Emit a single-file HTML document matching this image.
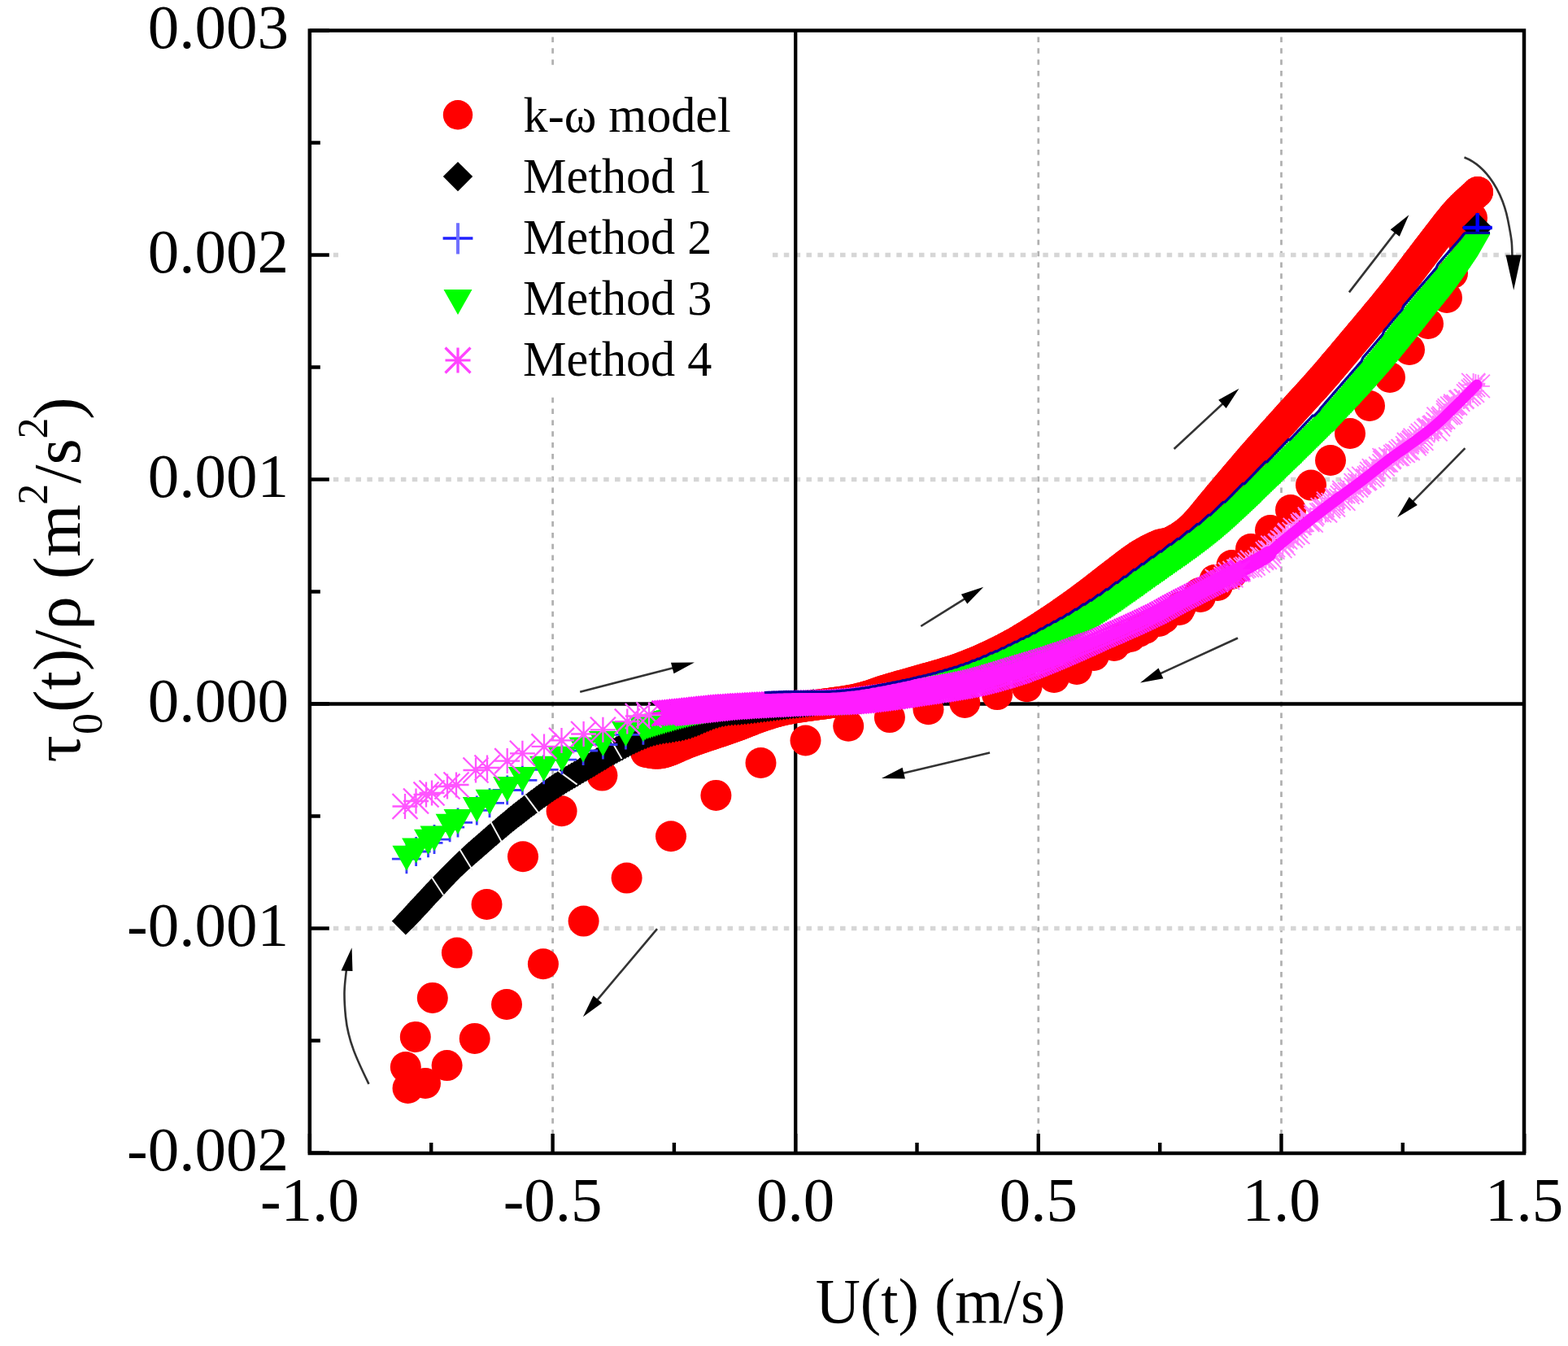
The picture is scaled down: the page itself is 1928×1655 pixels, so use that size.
<!DOCTYPE html>
<html><head><meta charset="utf-8"><title>Wall shear stress vs velocity</title>
<style>html,body{margin:0;padding:0;background:#fff;overflow:hidden;width:1928px;height:1655px;}svg{display:block;}</style>
</head><body>
<svg width="1928" height="1655" viewBox="0 0 1928 1655">
<rect x="0" y="0" width="1928" height="1655" fill="#fff"/>
<path d="M679.6 45.5V1415M1276.8 45.5V1415M1575.5 45.5V1415" stroke="#b0b0b0" stroke-width="2.7" stroke-dasharray="6.5 7.35" fill="none"/>
<path d="M409.8 313.5H1871M409.8 589.5H1871M409.8 1141.5H1871" stroke="#d6d6d6" stroke-width="5.5" stroke-dasharray="6.5 7.35" fill="none"/>
<rect x="416" y="80" width="527" height="404" fill="#fff"/>
<path d="M978.2 37.5V1418M380.8 865.5H1874" stroke="#000" stroke-width="4.3" fill="none"/>
<g fill="#ff0000"><circle cx="794" cy="925" r="19"/><circle cx="797" cy="925.4" r="19"/><circle cx="799.9" cy="926" r="19"/><circle cx="802.9" cy="926.4" r="19"/><circle cx="805.9" cy="926.7" r="19"/><circle cx="808.9" cy="926.7" r="19"/><circle cx="811.9" cy="926.5" r="19"/><circle cx="814.8" cy="926" r="19"/><circle cx="817.7" cy="925.2" r="19"/><circle cx="820.6" cy="924.3" r="19"/><circle cx="823.4" cy="923.2" r="19"/><circle cx="826.1" cy="922.1" r="19"/><circle cx="828.9" cy="920.9" r="19"/><circle cx="831.6" cy="919.7" r="19"/><circle cx="834.4" cy="918.5" r="19"/><circle cx="837.1" cy="917.3" r="19"/><circle cx="839.9" cy="916.1" r="19"/><circle cx="842.6" cy="914.9" r="19"/><circle cx="845.4" cy="913.8" r="19"/><circle cx="848.2" cy="912.7" r="19"/><circle cx="851" cy="911.6" r="19"/><circle cx="853.8" cy="910.6" r="19"/><circle cx="856.7" cy="909.6" r="19"/><circle cx="859.5" cy="908.7" r="19"/><circle cx="862.3" cy="907.7" r="19"/><circle cx="865.2" cy="906.7" r="19"/><circle cx="868" cy="905.8" r="19"/><circle cx="870.9" cy="904.8" r="19"/><circle cx="873.7" cy="903.9" r="19"/><circle cx="876.6" cy="902.9" r="19"/><circle cx="879.4" cy="902" r="19"/><circle cx="882.3" cy="901" r="19"/><circle cx="885.1" cy="900.1" r="19"/><circle cx="888" cy="899.1" r="19"/><circle cx="890.8" cy="898.2" r="19"/><circle cx="893.6" cy="897.2" r="19"/><circle cx="896.5" cy="896.2" r="19"/><circle cx="899.3" cy="895.2" r="19"/><circle cx="902.1" cy="894.2" r="19"/><circle cx="904.9" cy="893.2" r="19"/><circle cx="907.8" cy="892.1" r="19"/><circle cx="910.6" cy="891.1" r="19"/><circle cx="913.4" cy="890" r="19"/><circle cx="916.1" cy="888.9" r="19"/><circle cx="918.9" cy="887.8" r="19"/><circle cx="921.7" cy="886.7" r="19"/><circle cx="924.5" cy="885.6" r="19"/><circle cx="927.3" cy="884.5" r="19"/><circle cx="930.1" cy="883.5" r="19"/><circle cx="932.9" cy="882.4" r="19"/><circle cx="935.8" cy="881.4" r="19"/><circle cx="938.6" cy="880.5" r="19"/><circle cx="941.5" cy="879.5" r="19"/><circle cx="944.3" cy="878.6" r="19"/><circle cx="947.2" cy="877.7" r="19"/><circle cx="950" cy="876.8" r="19"/><circle cx="952.9" cy="875.9" r="19"/><circle cx="955.8" cy="875.1" r="19"/><circle cx="958.7" cy="874.4" r="19"/><circle cx="961.6" cy="873.7" r="19"/><circle cx="964.6" cy="873" r="19"/><circle cx="967.5" cy="872.4" r="19"/><circle cx="970.4" cy="871.9" r="19"/><circle cx="973.4" cy="871.3" r="19"/><circle cx="976.3" cy="870.8" r="19"/><circle cx="979.3" cy="870.3" r="19"/><circle cx="982.3" cy="869.8" r="19"/><circle cx="985.2" cy="869.4" r="19"/><circle cx="988.2" cy="868.9" r="19"/><circle cx="991.2" cy="868.5" r="19"/><circle cx="994.1" cy="868.1" r="19"/><circle cx="997.1" cy="867.7" r="19"/><circle cx="1000.1" cy="867.3" r="19"/><circle cx="1003.1" cy="866.9" r="19"/><circle cx="1006" cy="866.5" r="19"/><circle cx="1009" cy="866.1" r="19"/><circle cx="1012" cy="865.7" r="19"/><circle cx="1015" cy="865.3" r="19"/><circle cx="1017.9" cy="864.9" r="19"/><circle cx="1020.9" cy="864.5" r="19"/><circle cx="1023.9" cy="864.1" r="19"/><circle cx="1026.8" cy="863.7" r="19"/><circle cx="1029.8" cy="863.3" r="19"/><circle cx="1032.8" cy="862.9" r="19"/><circle cx="1035.8" cy="862.4" r="19"/><circle cx="1038.7" cy="861.9" r="19"/><circle cx="1041.7" cy="861.5" r="19"/><circle cx="1044.6" cy="861" r="19"/><circle cx="1047.6" cy="860.4" r="19"/><circle cx="1050.5" cy="859.9" r="19"/><circle cx="1053.5" cy="859.2" r="19"/><circle cx="1056.4" cy="858.6" r="19"/><circle cx="1059.3" cy="857.9" r="19"/><circle cx="1062.2" cy="857.1" r="19"/><circle cx="1065.1" cy="856.3" r="19"/><circle cx="1068" cy="855.4" r="19"/><circle cx="1070.8" cy="854.5" r="19"/><circle cx="1073.7" cy="853.5" r="19"/><circle cx="1076.5" cy="852.5" r="19"/><circle cx="1079.3" cy="851.5" r="19"/><circle cx="1082.1" cy="850.5" r="19"/><circle cx="1085" cy="849.6" r="19"/><circle cx="1087.9" cy="848.7" r="19"/><circle cx="1090.7" cy="847.8" r="19"/><circle cx="1093.6" cy="847" r="19"/><circle cx="1096.5" cy="846.1" r="19"/><circle cx="1099.4" cy="845.3" r="19"/><circle cx="1102.2" cy="844.5" r="19"/><circle cx="1105.1" cy="843.6" r="19"/><circle cx="1108" cy="842.8" r="19"/><circle cx="1110.9" cy="842" r="19"/><circle cx="1113.8" cy="841.2" r="19"/><circle cx="1116.7" cy="840.4" r="19"/><circle cx="1119.6" cy="839.5" r="19"/><circle cx="1122.4" cy="838.7" r="19"/><circle cx="1125.3" cy="837.9" r="19"/><circle cx="1128.2" cy="837.1" r="19"/><circle cx="1131.1" cy="836.3" r="19"/><circle cx="1134" cy="835.4" r="19"/><circle cx="1136.9" cy="834.6" r="19"/><circle cx="1139.8" cy="833.8" r="19"/><circle cx="1142.7" cy="833" r="19"/><circle cx="1145.5" cy="832.2" r="19"/><circle cx="1148.4" cy="831.4" r="19"/><circle cx="1151.3" cy="830.6" r="19"/><circle cx="1154.2" cy="829.7" r="19"/><circle cx="1157.1" cy="828.9" r="19"/><circle cx="1160" cy="828" r="19"/><circle cx="1162.8" cy="827.1" r="19"/><circle cx="1165.7" cy="826.3" r="19"/><circle cx="1168.5" cy="825.4" r="19"/><circle cx="1171.4" cy="824.4" r="19"/><circle cx="1174.3" cy="823.5" r="19"/><circle cx="1177.1" cy="822.5" r="19"/><circle cx="1179.9" cy="821.5" r="19"/><circle cx="1182.7" cy="820.5" r="19"/><circle cx="1185.5" cy="819.4" r="19"/><circle cx="1188.3" cy="818.3" r="19"/><circle cx="1191.1" cy="817.2" r="19"/><circle cx="1193.9" cy="816.1" r="19"/><circle cx="1196.7" cy="815" r="19"/><circle cx="1199.5" cy="813.9" r="19"/><circle cx="1202.2" cy="812.7" r="19"/><circle cx="1205" cy="811.5" r="19"/><circle cx="1207.7" cy="810.3" r="19"/><circle cx="1210.5" cy="809.1" r="19"/><circle cx="1213.2" cy="807.8" r="19"/><circle cx="1215.9" cy="806.6" r="19"/><circle cx="1218.6" cy="805.3" r="19"/><circle cx="1221.3" cy="804" r="19"/><circle cx="1224" cy="802.7" r="19"/><circle cx="1226.7" cy="801.4" r="19"/><circle cx="1229.4" cy="800" r="19"/><circle cx="1232.1" cy="798.7" r="19"/><circle cx="1234.8" cy="797.3" r="19"/><circle cx="1237.4" cy="795.9" r="19"/><circle cx="1240.1" cy="794.5" r="19"/><circle cx="1242.7" cy="793.1" r="19"/><circle cx="1245.3" cy="791.6" r="19"/><circle cx="1248" cy="790.2" r="19"/><circle cx="1250.6" cy="788.7" r="19"/><circle cx="1253.2" cy="787.2" r="19"/><circle cx="1255.7" cy="785.6" r="19"/><circle cx="1258.3" cy="784.1" r="19"/><circle cx="1260.9" cy="782.6" r="19"/><circle cx="1263.4" cy="781" r="19"/><circle cx="1266" cy="779.4" r="19"/><circle cx="1268.5" cy="777.8" r="19"/><circle cx="1271.1" cy="776.2" r="19"/><circle cx="1273.6" cy="774.6" r="19"/><circle cx="1276.2" cy="773" r="19"/><circle cx="1278.7" cy="771.4" r="19"/><circle cx="1281.2" cy="769.8" r="19"/><circle cx="1283.7" cy="768.1" r="19"/><circle cx="1286.2" cy="766.5" r="19"/><circle cx="1288.7" cy="764.8" r="19"/><circle cx="1291.2" cy="763.2" r="19"/><circle cx="1293.7" cy="761.5" r="19"/><circle cx="1296.2" cy="759.8" r="19"/><circle cx="1298.7" cy="758.2" r="19"/><circle cx="1301.2" cy="756.5" r="19"/><circle cx="1303.6" cy="754.8" r="19"/><circle cx="1306.1" cy="753.1" r="19"/><circle cx="1308.6" cy="751.3" r="19"/><circle cx="1311" cy="749.6" r="19"/><circle cx="1313.5" cy="747.9" r="19"/><circle cx="1315.9" cy="746.2" r="19"/><circle cx="1318.4" cy="744.4" r="19"/><circle cx="1320.8" cy="742.7" r="19"/><circle cx="1323.2" cy="740.9" r="19"/><circle cx="1325.7" cy="739.2" r="19"/><circle cx="1328.1" cy="737.4" r="19"/><circle cx="1330.5" cy="735.6" r="19"/><circle cx="1332.9" cy="733.8" r="19"/><circle cx="1335.3" cy="732" r="19"/><circle cx="1337.7" cy="730.2" r="19"/><circle cx="1340.1" cy="728.4" r="19"/><circle cx="1342.5" cy="726.6" r="19"/><circle cx="1344.9" cy="724.7" r="19"/><circle cx="1347.2" cy="722.9" r="19"/><circle cx="1349.6" cy="721.1" r="19"/><circle cx="1352" cy="719.2" r="19"/><circle cx="1354.3" cy="717.4" r="19"/><circle cx="1356.7" cy="715.5" r="19"/><circle cx="1359.1" cy="713.7" r="19"/><circle cx="1361.4" cy="711.8" r="19"/><circle cx="1363.8" cy="710" r="19"/><circle cx="1366.2" cy="708.2" r="19"/><circle cx="1368.6" cy="706.3" r="19"/><circle cx="1370.9" cy="704.5" r="19"/><circle cx="1373.3" cy="702.7" r="19"/><circle cx="1375.7" cy="700.9" r="19"/><circle cx="1378.1" cy="699" r="19"/><circle cx="1380.5" cy="697.2" r="19"/><circle cx="1382.8" cy="695.4" r="19"/><circle cx="1385.2" cy="693.6" r="19"/><circle cx="1387.6" cy="691.8" r="19"/><circle cx="1390" cy="690" r="19"/><circle cx="1392.4" cy="688.2" r="19"/><circle cx="1394.9" cy="686.5" r="19"/><circle cx="1397.4" cy="684.8" r="19"/><circle cx="1399.9" cy="683.1" r="19"/><circle cx="1402.4" cy="681.5" r="19"/><circle cx="1405" cy="680" r="19"/><circle cx="1407.6" cy="678.5" r="19"/><circle cx="1410.2" cy="677" r="19"/><circle cx="1412.9" cy="675.6" r="19"/><circle cx="1415.6" cy="674.3" r="19"/><circle cx="1418.3" cy="673" r="19"/><circle cx="1421" cy="671.8" r="19"/><circle cx="1423.7" cy="670.5" r="19"/><circle cx="1426.5" cy="669.4" r="19"/><circle cx="1429.4" cy="668.7" r="19"/><circle cx="1432.4" cy="668.3" r="19"/><circle cx="1435.3" cy="667.8" r="19"/><circle cx="1438.2" cy="666.9" r="19"/><circle cx="1440.9" cy="665.5" r="19"/><circle cx="1443.5" cy="664.1" r="19"/><circle cx="1446.1" cy="662.7" r="19"/><circle cx="1448.7" cy="661.2" r="19"/><circle cx="1451.3" cy="659.6" r="19"/><circle cx="1453.8" cy="657.9" r="19"/><circle cx="1456.2" cy="656.2" r="19"/><circle cx="1458.6" cy="654.4" r="19"/><circle cx="1461" cy="652.5" r="19"/><circle cx="1463.2" cy="650.5" r="19"/><circle cx="1465.4" cy="648.5" r="19"/><circle cx="1467.6" cy="646.4" r="19"/><circle cx="1469.7" cy="644.3" r="19"/><circle cx="1471.7" cy="642" r="19"/><circle cx="1473.7" cy="639.8" r="19"/><circle cx="1475.7" cy="637.5" r="19"/><circle cx="1477.6" cy="635.3" r="19"/><circle cx="1479.5" cy="633" r="19"/><circle cx="1481.4" cy="630.6" r="19"/><circle cx="1483.3" cy="628.3" r="19"/><circle cx="1485.2" cy="626" r="19"/><circle cx="1487.1" cy="623.7" r="19"/><circle cx="1489" cy="621.3" r="19"/><circle cx="1490.9" cy="619" r="19"/><circle cx="1492.8" cy="616.7" r="19"/><circle cx="1494.7" cy="614.4" r="19"/><circle cx="1496.6" cy="612.1" r="19"/><circle cx="1498.5" cy="609.8" r="19"/><circle cx="1500.5" cy="607.5" r="19"/><circle cx="1502.4" cy="605.2" r="19"/><circle cx="1504.3" cy="602.9" r="19"/><circle cx="1506.3" cy="600.6" r="19"/><circle cx="1508.2" cy="598.3" r="19"/><circle cx="1510.2" cy="596" r="19"/><circle cx="1512.1" cy="593.7" r="19"/><circle cx="1514" cy="591.4" r="19"/><circle cx="1516" cy="589.1" r="19"/><circle cx="1517.9" cy="586.8" r="19"/><circle cx="1519.8" cy="584.6" r="19"/><circle cx="1521.8" cy="582.3" r="19"/><circle cx="1523.7" cy="580" r="19"/><circle cx="1525.7" cy="577.7" r="19"/><circle cx="1527.6" cy="575.4" r="19"/><circle cx="1529.6" cy="573.1" r="19"/><circle cx="1531.5" cy="570.8" r="19"/><circle cx="1533.5" cy="568.6" r="19"/><circle cx="1535.4" cy="566.3" r="19"/><circle cx="1537.4" cy="564" r="19"/><circle cx="1539.3" cy="561.8" r="19"/><circle cx="1541.3" cy="559.5" r="19"/><circle cx="1543.3" cy="557.2" r="19"/><circle cx="1545.3" cy="555" r="19"/><circle cx="1547.2" cy="552.7" r="19"/><circle cx="1549.2" cy="550.5" r="19"/><circle cx="1551.2" cy="548.2" r="19"/><circle cx="1553.2" cy="546" r="19"/><circle cx="1555.2" cy="543.7" r="19"/><circle cx="1557.2" cy="541.5" r="19"/><circle cx="1559.2" cy="539.2" r="19"/><circle cx="1561.2" cy="537" r="19"/><circle cx="1563.2" cy="534.8" r="19"/><circle cx="1565.2" cy="532.5" r="19"/><circle cx="1567.2" cy="530.3" r="19"/><circle cx="1569.2" cy="528.1" r="19"/><circle cx="1571.2" cy="525.8" r="19"/><circle cx="1573.2" cy="523.6" r="19"/><circle cx="1575.2" cy="521.4" r="19"/><circle cx="1577.2" cy="519.1" r="19"/><circle cx="1579.2" cy="516.9" r="19"/><circle cx="1581.2" cy="514.7" r="19"/><circle cx="1583.2" cy="512.4" r="19"/><circle cx="1585.2" cy="510.2" r="19"/><circle cx="1587.2" cy="508" r="19"/><circle cx="1589.3" cy="505.8" r="19"/><circle cx="1591.3" cy="503.6" r="19"/><circle cx="1593.3" cy="501.4" r="19"/><circle cx="1595.3" cy="499.1" r="19"/><circle cx="1597.4" cy="496.9" r="19"/><circle cx="1599.4" cy="494.7" r="19"/><circle cx="1601.4" cy="492.5" r="19"/><circle cx="1603.4" cy="490.3" r="19"/><circle cx="1605.5" cy="488.1" r="19"/><circle cx="1607.5" cy="485.9" r="19"/><circle cx="1609.5" cy="483.6" r="19"/><circle cx="1611.5" cy="481.4" r="19"/><circle cx="1613.5" cy="479.2" r="19"/><circle cx="1615.6" cy="477" r="19"/><circle cx="1617.6" cy="474.7" r="19"/><circle cx="1619.6" cy="472.5" r="19"/><circle cx="1621.5" cy="470.3" r="19"/><circle cx="1623.5" cy="468" r="19"/><circle cx="1625.5" cy="465.8" r="19"/><circle cx="1627.5" cy="463.5" r="19"/><circle cx="1629.5" cy="461.2" r="19"/><circle cx="1631.4" cy="459" r="19"/><circle cx="1633.4" cy="456.7" r="19"/><circle cx="1635.3" cy="454.4" r="19"/><circle cx="1637.3" cy="452.1" r="19"/><circle cx="1639.2" cy="449.8" r="19"/><circle cx="1641.1" cy="447.5" r="19"/><circle cx="1643.1" cy="445.2" r="19"/><circle cx="1645" cy="442.9" r="19"/><circle cx="1646.9" cy="440.7" r="19"/><circle cx="1648.9" cy="438.4" r="19"/><circle cx="1650.8" cy="436.1" r="19"/><circle cx="1652.7" cy="433.8" r="19"/><circle cx="1654.7" cy="431.5" r="19"/><circle cx="1656.6" cy="429.2" r="19"/><circle cx="1658.5" cy="426.9" r="19"/><circle cx="1660.5" cy="424.6" r="19"/><circle cx="1662.4" cy="422.3" r="19"/><circle cx="1664.3" cy="420" r="19"/><circle cx="1666.3" cy="417.7" r="19"/><circle cx="1668.2" cy="415.4" r="19"/><circle cx="1670.1" cy="413.1" r="19"/><circle cx="1672.1" cy="410.8" r="19"/><circle cx="1674" cy="408.5" r="19"/><circle cx="1675.9" cy="406.2" r="19"/><circle cx="1677.9" cy="403.9" r="19"/><circle cx="1679.8" cy="401.6" r="19"/><circle cx="1681.7" cy="399.3" r="19"/><circle cx="1683.6" cy="397" r="19"/><circle cx="1685.6" cy="394.7" r="19"/><circle cx="1687.5" cy="392.4" r="19"/><circle cx="1689.4" cy="390.1" r="19"/><circle cx="1691.3" cy="387.8" r="19"/><circle cx="1693.2" cy="385.5" r="19"/><circle cx="1695.1" cy="383.2" r="19"/><circle cx="1697" cy="380.9" r="19"/><circle cx="1699" cy="378.6" r="19"/><circle cx="1700.9" cy="376.3" r="19"/><circle cx="1702.8" cy="373.9" r="19"/><circle cx="1704.6" cy="371.6" r="19"/><circle cx="1706.5" cy="369.3" r="19"/><circle cx="1708.4" cy="366.9" r="19"/><circle cx="1710.3" cy="364.6" r="19"/><circle cx="1712.2" cy="362.3" r="19"/><circle cx="1714" cy="359.9" r="19"/><circle cx="1715.9" cy="357.6" r="19"/><circle cx="1717.8" cy="355.2" r="19"/><circle cx="1719.6" cy="352.8" r="19"/><circle cx="1721.5" cy="350.5" r="19"/><circle cx="1723.3" cy="348.1" r="19"/><circle cx="1725.1" cy="345.7" r="19"/><circle cx="1727" cy="343.4" r="19"/><circle cx="1728.8" cy="341" r="19"/><circle cx="1730.6" cy="338.6" r="19"/><circle cx="1732.4" cy="336.2" r="19"/><circle cx="1734.3" cy="333.8" r="19"/><circle cx="1736.1" cy="331.4" r="19"/><circle cx="1737.9" cy="329" r="19"/><circle cx="1739.7" cy="326.7" r="19"/><circle cx="1741.5" cy="324.3" r="19"/><circle cx="1743.3" cy="321.9" r="19"/><circle cx="1745.1" cy="319.5" r="19"/><circle cx="1746.9" cy="317.1" r="19"/><circle cx="1748.8" cy="314.7" r="19"/><circle cx="1750.6" cy="312.3" r="19"/><circle cx="1752.4" cy="309.9" r="19"/><circle cx="1754.2" cy="307.5" r="19"/><circle cx="1756" cy="305.2" r="19"/><circle cx="1757.9" cy="302.8" r="19"/><circle cx="1759.7" cy="300.4" r="19"/><circle cx="1761.5" cy="298" r="19"/><circle cx="1763.4" cy="295.7" r="19"/><circle cx="1765.2" cy="293.3" r="19"/><circle cx="1767" cy="290.9" r="19"/><circle cx="1768.8" cy="288.5" r="19"/><circle cx="1770.7" cy="286.1" r="19"/><circle cx="1772.5" cy="283.7" r="19"/><circle cx="1774.3" cy="281.4" r="19"/><circle cx="1776.1" cy="279" r="19"/><circle cx="1778" cy="276.6" r="19"/><circle cx="1779.8" cy="274.2" r="19"/><circle cx="1781.7" cy="271.9" r="19"/><circle cx="1783.6" cy="269.6" r="19"/><circle cx="1785.5" cy="267.3" r="19"/><circle cx="1787.4" cy="265" r="19"/><circle cx="1789.4" cy="262.7" r="19"/><circle cx="1791.4" cy="260.5" r="19"/><circle cx="1793.4" cy="258.3" r="19"/><circle cx="1795.5" cy="256.1" r="19"/><circle cx="1797.6" cy="254" r="19"/><circle cx="1799.8" cy="251.9" r="19"/><circle cx="1802" cy="249.8" r="19"/><circle cx="1804.1" cy="247.8" r="19"/><circle cx="1806.3" cy="245.7" r="19"/><circle cx="1808.6" cy="243.7" r="19"/><circle cx="1810.8" cy="241.7" r="19"/><circle cx="1813" cy="239.7" r="19"/><circle cx="1815.2" cy="237.7" r="19"/><circle cx="1817" cy="236" r="19"/><circle cx="1380" cy="786" r="19"/><circle cx="1400" cy="777" r="19"/><circle cx="1425" cy="764" r="19"/><circle cx="1450" cy="750" r="19"/><circle cx="1476" cy="734" r="19"/><circle cx="1497" cy="720" r="19"/><circle cx="1514" cy="706" r="19"/><circle cx="1817" cy="236" r="19"/><circle cx="1810" cy="268" r="19"/><circle cx="1800" cy="300" r="19"/><circle cx="1786" cy="336" r="19"/><circle cx="1779" cy="366" r="19"/><circle cx="1756" cy="398" r="19"/><circle cx="1733" cy="430" r="19"/><circle cx="1709" cy="464" r="19"/><circle cx="1684" cy="499" r="19"/><circle cx="1660" cy="533" r="19"/><circle cx="1636" cy="566" r="19"/><circle cx="1612" cy="596.6" r="19"/><circle cx="1587" cy="627" r="19"/><circle cx="1562" cy="652" r="19"/><circle cx="1538" cy="675" r="19"/><circle cx="1514.5" cy="695" r="19"/><circle cx="1493.5" cy="713" r="19"/><circle cx="1475" cy="729" r="19"/><circle cx="1452" cy="746" r="19"/><circle cx="1431" cy="760" r="19"/><circle cx="1408" cy="773" r="19"/><circle cx="1390" cy="783" r="19"/><circle cx="1370" cy="794" r="19"/><circle cx="1345" cy="806" r="19"/><circle cx="1324" cy="823" r="19"/><circle cx="1296.1" cy="833" r="19"/><circle cx="1262.5" cy="844.3" r="19"/><circle cx="1226.1" cy="854.1" r="19"/><circle cx="1186.3" cy="863.9" r="19"/><circle cx="1141.5" cy="872.3" r="19"/><circle cx="1093.9" cy="882.1" r="19"/><circle cx="1043.2" cy="892.7" r="19"/><circle cx="990.5" cy="910.5" r="19"/><circle cx="935.5" cy="938" r="19"/><circle cx="880.4" cy="977.9" r="19"/><circle cx="825" cy="1028.3" r="19"/><circle cx="770.6" cy="1079.6" r="19"/><circle cx="717.6" cy="1132.6" r="19"/><circle cx="667.9" cy="1185.2" r="19"/><circle cx="623" cy="1235" r="19"/><circle cx="583.7" cy="1276.9" r="19"/><circle cx="549.6" cy="1310.1" r="19"/><circle cx="523" cy="1332" r="19"/><circle cx="501.5" cy="1338" r="19"/><circle cx="498.8" cy="1312" r="19"/><circle cx="510.8" cy="1274.9" r="19"/><circle cx="531.8" cy="1226.9" r="19"/><circle cx="561.9" cy="1171.6" r="19"/><circle cx="598.5" cy="1112" r="19"/><circle cx="643" cy="1053.2" r="19"/><circle cx="690.6" cy="997.2" r="19"/><circle cx="740.4" cy="953.6" r="19"/></g>
<path fill="#000" d="M498.8 1115.6l17 17l-17 17l-17 -17zM501.5 1112.7l17 17l-17 17l-17 -17zM504.2 1109.7l17 17l-17 17l-17 -17zM507 1106.8l17 17l-17 17l-17 -17zM509.7 1103.9l17 17l-17 17l-17 -17zM512.4 1100.9l17 17l-17 17l-17 -17zM515.1 1098l17 17l-17 17l-17 -17zM517.8 1095l17 17l-17 17l-17 -17zM520.5 1092.1l17 17l-17 17l-17 -17zM523.2 1089.2l17 17l-17 17l-17 -17zM526 1086.2l17 17l-17 17l-17 -17zM528.7 1083.3l17 17l-17 17l-17 -17zM531.4 1080.4l17 17l-17 17l-17 -17zM534.1 1077.5l17 17l-17 17l-17 -17zM536.9 1074.5l17 17l-17 17l-17 -17zM539.6 1071.6l17 17l-17 17l-17 -17zM542.4 1068.7l17 17l-17 17l-17 -17zM545.1 1065.8l17 17l-17 17l-17 -17zM547.9 1062.9l17 17l-17 17l-17 -17zM550.7 1060l17 17l-17 17l-17 -17zM553.5 1057.2l17 17l-17 17l-17 -17zM556.3 1054.3l17 17l-17 17l-17 -17zM559.1 1051.5l17 17l-17 17l-17 -17zM562 1048.7l17 17l-17 17l-17 -17zM564.8 1045.9l17 17l-17 17l-17 -17zM567.8 1043.2l17 17l-17 17l-17 -17zM570.7 1040.5l17 17l-17 17l-17 -17zM573.6 1037.8l17 17l-17 17l-17 -17zM576.6 1035.1l17 17l-17 17l-17 -17zM579.6 1032.5l17 17l-17 17l-17 -17zM582.6 1029.8l17 17l-17 17l-17 -17zM585.6 1027.2l17 17l-17 17l-17 -17zM588.7 1024.6l17 17l-17 17l-17 -17zM591.7 1021.9l17 17l-17 17l-17 -17zM594.7 1019.3l17 17l-17 17l-17 -17zM597.7 1016.7l17 17l-17 17l-17 -17zM600.7 1014l17 17l-17 17l-17 -17zM603.7 1011.4l17 17l-17 17l-17 -17zM606.7 1008.8l17 17l-17 17l-17 -17zM609.8 1006.2l17 17l-17 17l-17 -17zM612.8 1003.6l17 17l-17 17l-17 -17zM615.9 1001l17 17l-17 17l-17 -17zM618.9 998.4l17 17l-17 17l-17 -17zM622 995.9l17 17l-17 17l-17 -17zM625.1 993.3l17 17l-17 17l-17 -17zM628.2 990.8l17 17l-17 17l-17 -17zM631.3 988.3l17 17l-17 17l-17 -17zM634.4 985.8l17 17l-17 17l-17 -17zM637.6 983.3l17 17l-17 17l-17 -17zM640.7 980.9l17 17l-17 17l-17 -17zM643.9 978.4l17 17l-17 17l-17 -17zM647 975.9l17 17l-17 17l-17 -17zM650.2 973.5l17 17l-17 17l-17 -17zM653.4 971.1l17 17l-17 17l-17 -17zM656.6 968.7l17 17l-17 17l-17 -17zM659.8 966.3l17 17l-17 17l-17 -17zM663 963.9l17 17l-17 17l-17 -17zM666.2 961.5l17 17l-17 17l-17 -17zM669.5 959.2l17 17l-17 17l-17 -17zM672.7 956.9l17 17l-17 17l-17 -17zM676 954.6l17 17l-17 17l-17 -17zM679.3 952.3l17 17l-17 17l-17 -17zM682.6 950.1l17 17l-17 17l-17 -17zM686 947.9l17 17l-17 17l-17 -17zM689.4 945.8l17 17l-17 17l-17 -17zM692.8 943.7l17 17l-17 17l-17 -17zM696.2 941.6l17 17l-17 17l-17 -17zM699.6 939.5l17 17l-17 17l-17 -17zM703 937.4l17 17l-17 17l-17 -17zM706.5 935.4l17 17l-17 17l-17 -17zM709.9 933.4l17 17l-17 17l-17 -17zM713.4 931.3l17 17l-17 17l-17 -17zM716.8 929.3l17 17l-17 17l-17 -17zM720.3 927.3l17 17l-17 17l-17 -17zM723.7 925.3l17 17l-17 17l-17 -17zM727.1 923.2l17 17l-17 17l-17 -17zM730.6 921.2l17 17l-17 17l-17 -17zM734 919.1l17 17l-17 17l-17 -17zM737.4 917l17 17l-17 17l-17 -17zM740.8 914.9l17 17l-17 17l-17 -17zM744.3 912.9l17 17l-17 17l-17 -17zM747.7 910.8l17 17l-17 17l-17 -17zM751.2 908.8l17 17l-17 17l-17 -17zM754.7 906.9l17 17l-17 17l-17 -17zM758.2 905l17 17l-17 17l-17 -17zM761.7 903.1l17 17l-17 17l-17 -17zM765.2 901.2l17 17l-17 17l-17 -17zM768.8 899.3l17 17l-17 17l-17 -17zM772.3 897.5l17 17l-17 17l-17 -17zM775.8 895.6l17 17l-17 17l-17 -17zM779.4 893.8l17 17l-17 17l-17 -17zM783 892l17 17l-17 17l-17 -17zM786.6 890.3l17 17l-17 17l-17 -17zM790.3 888.7l17 17l-17 17l-17 -17zM794 887.2l17 17l-17 17l-17 -17zM797.7 885.8l17 17l-17 17l-17 -17zM801.5 884.6l17 17l-17 17l-17 -17zM805.4 883.5l17 17l-17 17l-17 -17zM809.3 882.6l17 17l-17 17l-17 -17zM813.2 881.8l17 17l-17 17l-17 -17zM817.1 881.1l17 17l-17 17l-17 -17zM821.1 880.5l17 17l-17 17l-17 -17zM825 879.9l17 17l-17 17l-17 -17zM829 879.3l17 17l-17 17l-17 -17zM832.9 878.6l17 17l-17 17l-17 -17zM836.9 877.9l17 17l-17 17l-17 -17zM840.8 877l17 17l-17 17l-17 -17zM844.7 876.1l17 17l-17 17l-17 -17zM848.5 874.9l17 17l-17 17l-17 -17zM852.3 873.6l17 17l-17 17l-17 -17zM856 872.2l17 17l-17 17l-17 -17zM859.7 870.7l17 17l-17 17l-17 -17zM863.4 869.1l17 17l-17 17l-17 -17zM867.1 867.6l17 17l-17 17l-17 -17zM870.8 866l17 17l-17 17l-17 -17zM874.5 864.5l17 17l-17 17l-17 -17zM878.2 863.1l17 17l-17 17l-17 -17zM882 861.9l17 17l-17 17l-17 -17zM885.9 860.8l17 17l-17 17l-17 -17zM889.8 859.9l17 17l-17 17l-17 -17zM893.7 859.3l17 17l-17 17l-17 -17zM897.7 858.8l17 17l-17 17l-17 -17zM901.7 858.4l17 17l-17 17l-17 -17zM905.7 858.2l17 17l-17 17l-17 -17zM909.7 857.9l17 17l-17 17l-17 -17zM913.7 857.6l17 17l-17 17l-17 -17zM917.6 857.2l17 17l-17 17l-17 -17zM921.6 856.8l17 17l-17 17l-17 -17zM925.6 856.3l17 17l-17 17l-17 -17zM929.6 855.8l17 17l-17 17l-17 -17zM933.5 855.3l17 17l-17 17l-17 -17zM937.5 854.8l17 17l-17 17l-17 -17zM941.5 854.3l17 17l-17 17l-17 -17zM945.4 853.8l17 17l-17 17l-17 -17zM949.4 853.3l17 17l-17 17l-17 -17zM953.4 852.8l17 17l-17 17l-17 -17zM957.3 852.3l17 17l-17 17l-17 -17zM961.3 851.8l17 17l-17 17l-17 -17zM965.3 851.3l17 17l-17 17l-17 -17zM969.2 850.8l17 17l-17 17l-17 -17zM973.2 850.3l17 17l-17 17l-17 -17zM977.2 849.9l17 17l-17 17l-17 -17zM981.1 849.4l17 17l-17 17l-17 -17zM985.1 848.9l17 17l-17 17l-17 -17zM989.1 848.4l17 17l-17 17l-17 -17zM993.1 847.9l17 17l-17 17l-17 -17zM997 847.4l17 17l-17 17l-17 -17zM1000 847l17 17l-17 17l-17 -17z"/>
<path fill="none" stroke="#f4f4f4" stroke-width="2" d="M565.4 1044.5L581 1070M602.3 1008.6L616.7 1035M645.8 977.6L663.8 1001.6M685.4 946.9L709.6 964.6M749.5 907L764.5 933M528.8 1075.5L545.2 1100.5"/>
<path fill="none" stroke="#3a3aff" stroke-width="2.8" d="M481.9 1056.2h36M499.9 1038.2v36M493.6 1047h36M511.6 1029v36M508.5 1036.3h36M526.5 1018.3v36M516 1032.1h36M534 1014.1v36M535.1 1017.2h36M553.1 999.2v36M545 1011.4h36M563 993.4v36M568.3 996.4h36M586.3 978.4v36M584 987.3h36M602 969.3v36M605.7 971.5h36M623.7 953.5v36M624.4 959.4h36M642.4 941.4v36M650.6 946.3h36M668.6 928.3v36M673 934.2h36M691 916.2v36M699.1 923h36M717.1 905v36M723.4 915.5h36M741.4 897.5v36M751.4 903.4h36M769.4 885.4v36M772.9 897.8h36M790.9 879.8v36"/>
<path fill="#000" d="M1816.5 261.5l18.5 18.5l-18.5 18.5l-18.5 -18.5z"/>
<path fill="none" stroke="#0000ff" stroke-width="4.5" d="M1798.7 280h36M1816.7 262v36"/>
<path fill="#00ff00" d="M482.4 1039.7h35l-17.5 31zM494.1 1030.5h35l-17.5 31zM509 1019.8h35l-17.5 31zM516.5 1015.6h35l-17.5 31zM535.6 1000.7h35l-17.5 31zM545.5 994.9h35l-17.5 31zM568.8 979.9h35l-17.5 31zM584.5 970.8h35l-17.5 31zM606.2 955h35l-17.5 31zM624.9 942.9h35l-17.5 31zM651.1 929.8h35l-17.5 31zM673.5 917.7h35l-17.5 31zM699.6 906.5h35l-17.5 31zM723.9 899h35l-17.5 31zM751.9 886.9h35l-17.5 31zM773.4 881.3h35l-17.5 31zM777.8 881.9h32l-16 28zM780.6 881h32l-16 28zM783.5 880.2h32l-16 28zM786.4 879.3h32l-16 28zM789.2 878.4h32l-16 28zM792.1 877.5h32l-16 28zM795 876.7h32l-16 28zM797.9 875.8h32l-16 28zM800.7 874.9h32l-16 28zM803.6 874.1h32l-16 28zM806.5 873.3h32l-16 28zM809.4 872.5h32l-16 28zM812.3 871.6h32l-16 28zM815.1 870.8h32l-16 28zM818 870h32l-16 28zM820.9 869.2h32l-16 28zM823.8 868.4h32l-16 28zM826.7 867.7h32l-16 28zM829.7 867h32l-16 28zM832.6 866.3h32l-16 28zM835.5 865.6h32l-16 28zM838.4 865h32l-16 28zM841.3 864.3h32l-16 28zM844.3 863.6h32l-16 28zM847.2 862.9h32l-16 28zM850.1 862.2h32l-16 28zM853 861.5h32l-16 28zM855.9 860.8h32l-16 28zM858.9 860.2h32l-16 28zM861.8 859.6h32l-16 28zM864.7 859h32l-16 28zM867.7 858.4h32l-16 28zM870.7 857.9h32l-16 28zM873.6 857.4h32l-16 28zM876.6 857h32l-16 28zM879.6 856.6h32l-16 28zM882.5 856.2h32l-16 28zM885.5 855.9h32l-16 28zM888.5 855.6h32l-16 28zM891.5 855.3h32l-16 28zM894.5 855h32l-16 28zM897.5 854.8h32l-16 28zM900.5 854.6h32l-16 28zM903.4 854.4h32l-16 28zM906.4 854.2h32l-16 28zM909.4 854h32l-16 28zM912.4 853.8h32l-16 28zM915.4 853.7h32l-16 28zM918.4 853.5h32l-16 28zM921.4 853.4h32l-16 28zM924.4 853.3h32l-16 28zM927.4 853.2h32l-16 28zM930.4 853h32l-16 28zM933.4 852.9h32l-16 28zM936.4 852.8h32l-16 28zM939.4 852.7h32l-16 28zM942.4 852.6h32l-16 28zM945.4 852.5h32l-16 28zM948.4 852.4h32l-16 28zM951.4 852.3h32l-16 28zM954.4 852.2h32l-16 28zM957.4 852.1h32l-16 28zM960.4 852h32l-16 28zM963.4 851.9h32l-16 28zM966.4 851.8h32l-16 28zM969.4 851.8h32l-16 28zM972.4 851.7h32l-16 28zM975.4 851.7h32l-16 28zM978.4 851.7h32l-16 28zM981.4 851.7h32l-16 28zM984.4 851.7h32l-16 28zM987.4 851.7h32l-16 28zM990.4 851.8h32l-16 28zM993.4 851.8h32l-16 28zM996.4 851.8h32l-16 28zM999.4 851.8h32l-16 28zM1002.4 851.8h32l-16 28zM1005.4 851.8h32l-16 28zM1008.4 851.7h32l-16 28zM1011.4 851.7h32l-16 28zM1014.4 851.6h32l-16 28zM1017.4 851.5h32l-16 28zM1020.4 851.4h32l-16 28zM1023.4 851.2h32l-16 28zM1026.4 851.1h32l-16 28zM1029.4 850.8h32l-16 28zM1032.4 850.6h32l-16 28zM1035.3 850.4h32l-16 28zM1038.3 850h32l-16 28zM1041.3 849.7h32l-16 28zM1044.3 849.4h32l-16 28zM1047.3 849h32l-16 28zM1050.2 848.6h32l-16 28zM1053.2 848.3h32l-16 28zM1056.2 847.8h32l-16 28zM1059.2 847.4h32l-16 28zM1062.1 846.9h32l-16 28zM1065.1 846.5h32l-16 28zM1068 846h32l-16 28zM1071 845.5h32l-16 28zM1074 845h32l-16 28zM1076.9 844.4h32l-16 28zM1079.9 843.9h32l-16 28zM1082.8 843.3h32l-16 28zM1085.8 842.8h32l-16 28zM1088.7 842.2h32l-16 28zM1091.6 841.6h32l-16 28zM1094.6 841h32l-16 28zM1097.5 840.4h32l-16 28zM1100.5 839.8h32l-16 28zM1103.4 839.2h32l-16 28zM1106.3 838.6h32l-16 28zM1109.3 837.9h32l-16 28zM1112.2 837.3h32l-16 28zM1115.1 836.7h32l-16 28zM1118.1 836h32l-16 28zM1121 835.4h32l-16 28zM1123.9 834.7h32l-16 28zM1126.8 834h32l-16 28zM1129.8 833.4h32l-16 28zM1132.7 832.7h32l-16 28zM1135.6 832h32l-16 28zM1138.5 831.3h32l-16 28zM1141.4 830.5h32l-16 28zM1144.3 829.8h32l-16 28zM1147.2 829.1h32l-16 28zM1150.1 828.3h32l-16 28zM1153 827.5h32l-16 28zM1155.9 826.8h32l-16 28zM1158.8 825.9h32l-16 28zM1161.7 825.1h32l-16 28zM1164.6 824.3h32l-16 28zM1167.5 823.4h32l-16 28zM1170.3 822.5h32l-16 28zM1173.2 821.6h32l-16 28zM1176 820.7h32l-16 28zM1178.9 819.7h32l-16 28zM1181.7 818.8h32l-16 28zM1184.6 817.8h32l-16 28zM1187.4 816.8h32l-16 28zM1190.2 815.7h32l-16 28zM1193 814.7h32l-16 28zM1195.8 813.6h32l-16 28zM1198.6 812.5h32l-16 28zM1201.4 811.4h32l-16 28zM1204.2 810.3h32l-16 28zM1206.9 809.1h32l-16 28zM1209.7 808h32l-16 28zM1212.5 806.8h32l-16 28zM1215.2 805.6h32l-16 28zM1218 804.4h32l-16 28zM1220.7 803.2h32l-16 28zM1223.5 802h32l-16 28zM1226.2 800.7h32l-16 28zM1228.9 799.5h32l-16 28zM1231.6 798.2h32l-16 28zM1234.4 797h32l-16 28zM1237.1 795.7h32l-16 28zM1239.8 794.4h32l-16 28zM1242.5 793.1h32l-16 28zM1245.2 791.8h32l-16 28zM1247.9 790.5h32l-16 28zM1250.6 789.2h32l-16 28zM1253.3 787.8h32l-16 28zM1256 786.5h32l-16 28zM1258.6 785.2h32l-16 28zM1261.3 783.8h32l-16 28zM1264 782.5h32l-16 28zM1266.7 781.1h32l-16 28zM1269.3 779.7h32l-16 28zM1272 778.4h32l-16 28zM1274.7 777h32l-16 28zM1277.3 775.6h32l-16 28zM1280 774.2h32l-16 28zM1282.6 772.8h32l-16 28zM1285.3 771.3h32l-16 28zM1287.9 769.9h32l-16 28zM1290.5 768.5h32l-16 28zM1293.2 767h32l-16 28zM1295.8 765.6h32l-16 28zM1298.4 764.1h32l-16 28zM1301 762.6h32l-16 28zM1303.6 761.2h32l-16 28zM1306.2 759.7h32l-16 28zM1308.8 758.2h32l-16 28zM1311.4 756.6h32l-16 28zM1314 755.1h32l-16 28zM1316.6 753.6h32l-16 28zM1319.2 752.1h32l-16 28zM1321.7 750.5h32l-16 28zM1324.3 749h32l-16 28zM1326.9 747.4h32l-16 28zM1329.4 745.8h32l-16 28zM1332 744.3h32l-16 28zM1334.5 742.7h32l-16 28zM1337 741.1h32l-16 28zM1339.6 739.4h32l-16 28zM1342.1 737.8h32l-16 28zM1344.6 736.2h32l-16 28zM1347.1 734.5h32l-16 28zM1349.6 732.9h32l-16 28zM1352.1 731.2h32l-16 28zM1354.6 729.5h32l-16 28zM1357.1 727.8h32l-16 28zM1359.5 726.1h32l-16 28zM1362 724.4h32l-16 28zM1364.5 722.7h32l-16 28zM1366.9 721h32l-16 28zM1369.4 719.3h32l-16 28zM1371.9 717.6h32l-16 28zM1374.3 715.8h32l-16 28zM1376.7 714.1h32l-16 28zM1379.2 712.4h32l-16 28zM1381.6 710.6h32l-16 28zM1384.1 708.9h32l-16 28zM1386.5 707.1h32l-16 28zM1389 705.4h32l-16 28zM1391.4 703.6h32l-16 28zM1393.8 701.9h32l-16 28zM1396.3 700.1h32l-16 28zM1398.7 698.4h32l-16 28zM1401.1 696.6h32l-16 28zM1403.6 694.9h32l-16 28zM1406 693.1h32l-16 28zM1408.5 691.4h32l-16 28zM1410.9 689.7h32l-16 28zM1413.4 687.9h32l-16 28zM1415.8 686.2h32l-16 28zM1418.3 684.5h32l-16 28zM1420.7 682.7h32l-16 28zM1423.2 681h32l-16 28zM1425.6 679.3h32l-16 28zM1428.1 677.6h32l-16 28zM1430.5 675.9h32l-16 28zM1433 674.1h32l-16 28zM1435.5 672.4h32l-16 28zM1437.9 670.7h32l-16 28zM1440.4 669h32l-16 28zM1442.8 667.2h32l-16 28zM1445.3 665.5h32l-16 28zM1447.7 663.8h32l-16 28zM1450.1 662h32l-16 28zM1452.6 660.2h32l-16 28zM1455 658.5h32l-16 28zM1457.4 656.7h32l-16 28zM1459.8 654.9h32l-16 28zM1462.2 653.1h32l-16 28zM1464.6 651.3h32l-16 28zM1467 649.5h32l-16 28zM1469.4 647.7h32l-16 28zM1471.8 645.8h32l-16 28zM1474.1 644h32l-16 28zM1476.5 642.1h32l-16 28zM1478.8 640.2h32l-16 28zM1481.1 638.3h32l-16 28zM1483.5 636.4h32l-16 28zM1485.8 634.5h32l-16 28zM1488 632.6h32l-16 28zM1490.3 630.6h32l-16 28zM1492.6 628.7h32l-16 28zM1494.9 626.7h32l-16 28zM1497.1 624.7h32l-16 28zM1499.3 622.7h32l-16 28zM1501.6 620.7h32l-16 28zM1503.8 618.7h32l-16 28zM1506 616.7h32l-16 28zM1508.2 614.6h32l-16 28zM1510.4 612.6h32l-16 28zM1512.6 610.6h32l-16 28zM1514.8 608.5h32l-16 28zM1517 606.4h32l-16 28zM1519.2 604.4h32l-16 28zM1521.4 602.3h32l-16 28zM1523.5 600.2h32l-16 28zM1525.7 598.2h32l-16 28zM1527.9 596.1h32l-16 28zM1530 594h32l-16 28zM1532.2 591.9h32l-16 28zM1534.3 589.9h32l-16 28zM1536.5 587.8h32l-16 28zM1538.6 585.7h32l-16 28zM1540.8 583.6h32l-16 28zM1543 581.5h32l-16 28zM1545.1 579.4h32l-16 28zM1547.3 577.3h32l-16 28zM1549.4 575.2h32l-16 28zM1551.6 573.2h32l-16 28zM1553.7 571.1h32l-16 28zM1555.9 569h32l-16 28zM1558.1 566.9h32l-16 28zM1560.2 564.8h32l-16 28zM1562.4 562.8h32l-16 28zM1564.5 560.7h32l-16 28zM1566.7 558.6h32l-16 28zM1568.9 556.5h32l-16 28zM1571 554.4h32l-16 28zM1573.2 552.3h32l-16 28zM1575.3 550.3h32l-16 28zM1577.5 548.2h32l-16 28zM1579.7 546.1h32l-16 28zM1581.8 544h32l-16 28zM1584 541.9h32l-16 28zM1586.1 539.8h32l-16 28zM1588.3 537.7h32l-16 28zM1590.4 535.6h32l-16 28zM1592.5 533.5h32l-16 28zM1594.7 531.4h32l-16 28zM1596.8 529.3h32l-16 28zM1599 527.2h32l-16 28zM1601.1 525.1h32l-16 28zM1603.2 523h32l-16 28zM1605.4 520.9h32l-16 28zM1607.5 518.8h32l-16 28zM1609.6 516.7h32l-16 28zM1611.8 514.6h32l-16 28zM1613.9 512.4h32l-16 28zM1616 510.3h32l-16 28zM1618.1 508.2h32l-16 28zM1620.2 506.1h32l-16 28zM1622.3 503.9h32l-16 28zM1624.5 501.8h32l-16 28zM1626.6 499.7h32l-16 28zM1628.6 497.5h32l-16 28zM1630.7 495.4h32l-16 28zM1632.8 493.2h32l-16 28zM1634.9 491h32l-16 28zM1637 488.9h32l-16 28zM1639.1 486.7h32l-16 28zM1641.1 484.5h32l-16 28zM1643.2 482.4h32l-16 28zM1645.3 480.2h32l-16 28zM1647.3 478h32l-16 28zM1649.4 475.8h32l-16 28zM1651.4 473.6h32l-16 28zM1653.5 471.4h32l-16 28zM1655.5 469.2h32l-16 28zM1657.5 467h32l-16 28zM1659.6 464.8h32l-16 28zM1661.6 462.6h32l-16 28zM1663.6 460.4h32l-16 28zM1665.6 458.2h32l-16 28zM1667.6 455.9h32l-16 28zM1669.6 453.7h32l-16 28zM1671.7 451.5h32l-16 28zM1673.7 449.2h32l-16 28zM1675.6 447h32l-16 28zM1677.6 444.8h32l-16 28zM1679.6 442.5h32l-16 28zM1681.6 440.3h32l-16 28zM1683.6 438h32l-16 28zM1685.6 435.7h32l-16 28zM1687.5 433.5h32l-16 28zM1689.5 431.2h32l-16 28zM1691.5 428.9h32l-16 28zM1693.4 426.7h32l-16 28zM1695.4 424.4h32l-16 28zM1697.3 422.1h32l-16 28zM1699.2 419.8h32l-16 28zM1701.2 417.5h32l-16 28zM1703.1 415.2h32l-16 28zM1705 412.9h32l-16 28zM1706.9 410.6h32l-16 28zM1708.8 408.3h32l-16 28zM1710.7 405.9h32l-16 28zM1712.6 403.6h32l-16 28zM1714.5 401.3h32l-16 28zM1716.3 398.9h32l-16 28zM1718.2 396.6h32l-16 28zM1720.1 394.2h32l-16 28zM1722 391.9h32l-16 28zM1723.8 389.5h32l-16 28zM1725.7 387.2h32l-16 28zM1727.5 384.8h32l-16 28zM1729.4 382.5h32l-16 28zM1731.3 380.1h32l-16 28zM1733.1 377.8h32l-16 28zM1735 375.4h32l-16 28zM1736.8 373h32l-16 28zM1738.7 370.7h32l-16 28zM1740.6 368.3h32l-16 28zM1742.4 366h32l-16 28zM1744.3 363.6h32l-16 28zM1746.2 361.3h32l-16 28zM1748 359h32l-16 28zM1749.9 356.6h32l-16 28zM1751.8 354.3h32l-16 28zM1753.7 352h32l-16 28zM1755.6 349.6h32l-16 28zM1757.5 347.3h32l-16 28zM1759.3 344.9h32l-16 28zM1761.2 342.6h32l-16 28zM1763.1 340.3h32l-16 28zM1764.9 337.9h32l-16 28zM1766.8 335.5h32l-16 28zM1768.6 333.2h32l-16 28zM1770.4 330.8h32l-16 28zM1772.2 328.4h32l-16 28zM1774 326h32l-16 28zM1775.8 323.5h32l-16 28zM1777.5 321.1h32l-16 28zM1779.3 318.7h32l-16 28zM1781 316.2h32l-16 28zM1782.7 313.7h32l-16 28zM1784.4 311.3h32l-16 28zM1786.1 308.8h32l-16 28zM1787.8 306.3h32l-16 28zM1789.5 303.8h32l-16 28zM1791.2 301.4h32l-16 28zM1792.8 298.9h32l-16 28zM1794.5 296.4h32l-16 28zM1796.2 293.9h32l-16 28zM1797.9 291.4h32l-16 28zM1799.5 288.9h32l-16 28zM1800.5 287.5h32l-16 28zM1624 503h32l-16 28zM1625.9 500.7h32l-16 28zM1627.8 498.4h32l-16 28zM1629.8 496.1h32l-16 28zM1631.7 493.8h32l-16 28zM1633.6 491.5h32l-16 28zM1635.6 489.2h32l-16 28zM1637.5 486.9h32l-16 28zM1639.4 484.6h32l-16 28zM1641.3 482.3h32l-16 28zM1643.3 480h32l-16 28zM1645.2 477.7h32l-16 28zM1647.1 475.4h32l-16 28zM1649 473.1h32l-16 28zM1651 470.8h32l-16 28zM1652.9 468.5h32l-16 28zM1654.8 466.2h32l-16 28zM1656.7 463.9h32l-16 28zM1658.7 461.6h32l-16 28zM1660.6 459.3h32l-16 28zM1662.5 457h32l-16 28zM1664.4 454.7h32l-16 28zM1666.4 452.4h32l-16 28zM1668.3 450.1h32l-16 28zM1670.2 447.8h32l-16 28zM1672.1 445.5h32l-16 28zM1674 443.2h32l-16 28zM1675.9 440.8h32l-16 28zM1677.8 438.5h32l-16 28zM1679.7 436.2h32l-16 28zM1681.6 433.9h32l-16 28zM1683.5 431.6h32l-16 28zM1685.4 429.2h32l-16 28zM1687.3 426.9h32l-16 28zM1689.2 424.5h32l-16 28zM1691 422.2h32l-16 28zM1692.9 419.8h32l-16 28zM1694.7 417.4h32l-16 28zM1696.5 415.1h32l-16 28zM1698.3 412.7h32l-16 28zM1700.2 410.3h32l-16 28zM1701.9 407.9h32l-16 28zM1703.7 405.5h32l-16 28zM1705.5 403.1h32l-16 28zM1707.3 400.7h32l-16 28zM1709.1 398.3h32l-16 28zM1711 395.9h32l-16 28zM1712.8 393.5h32l-16 28zM1714.7 391.2h32l-16 28zM1716.5 388.8h32l-16 28zM1718.4 386.5h32l-16 28zM1720.3 384.1h32l-16 28zM1722.1 381.8h32l-16 28zM1724 379.4h32l-16 28zM1725.9 377.1h32l-16 28zM1727.8 374.8h32l-16 28zM1729.7 372.5h32l-16 28zM1731.6 370.1h32l-16 28zM1733.5 367.8h32l-16 28zM1735.4 365.5h32l-16 28zM1737.3 363.2h32l-16 28zM1739.2 360.8h32l-16 28zM1741.1 358.5h32l-16 28zM1743 356.2h32l-16 28zM1744.9 353.9h32l-16 28zM1746.8 351.6h32l-16 28zM1748.7 349.3h32l-16 28zM1750.6 347h32l-16 28zM1752.6 344.6h32l-16 28zM1754.5 342.3h32l-16 28zM1756.4 340h32l-16 28zM1758.3 337.7h32l-16 28zM1760.2 335.4h32l-16 28zM1762.2 333.1h32l-16 28zM1764.1 330.8h32l-16 28zM1766 328.5h32l-16 28zM1767.9 326.2h32l-16 28zM1769.9 323.9h32l-16 28zM1771.8 321.6h32l-16 28zM1773.7 319.3h32l-16 28zM1775.7 317h32l-16 28zM1777.6 314.7h32l-16 28zM1779.5 312.4h32l-16 28zM1781.4 310.1h32l-16 28zM1783.4 307.8h32l-16 28zM1785.3 305.5h32l-16 28zM1787.2 303.2h32l-16 28zM1789.2 301h32l-16 28zM1791.1 298.7h32l-16 28zM1793 296.4h32l-16 28zM1795 294.1h32l-16 28zM1796.9 291.8h32l-16 28zM1798.8 289.5h32l-16 28zM1800.5 287.5h32l-16 28z"/>
<path fill="none" stroke="#ff7cff" stroke-width="1.9" d="M1481.7 713.9h28.2M1495.8 699.8v28.2M1481.7 699.8l28.2 28.2M1481.7 728l28.2 -28.2M1484.2 714.5h25.9M1497.2 701.5v25.9M1484.2 701.5l25.9 25.9M1484.2 727.4l25.9 -25.9M1488.2 713h23.3M1499.8 701.3v23.3M1488.2 701.3l23.3 23.3M1488.2 724.6l23.3 -23.3M1492.5 709.4h23.7M1504.4 697.5v23.7M1492.5 697.5l23.7 23.7M1492.5 721.3l23.7 -23.7M1495 711.8h24M1507 699.8v24M1495 699.8l24 24M1495 723.8l24 -24M1493.4 709.5h30.6M1508.7 694.2v30.6M1493.4 694.2l30.6 30.6M1493.4 724.8l30.6 -30.6M1497.7 706.9h30.8M1513.1 691.5v30.8M1497.7 691.5l30.8 30.8M1497.7 722.3l30.8 -30.8M1500.4 707.9h25.3M1513.1 695.2v25.3M1500.4 695.2l25.3 25.3M1500.4 720.5l25.3 -25.3M1503.5 702.8h25.5M1516.3 690v25.5M1503.5 690l25.5 25.5M1503.5 715.5l25.5 -25.5M1508.4 701.7h27.7M1522.3 687.9v27.7M1508.4 687.9l27.7 27.7M1508.4 715.5l27.7 -27.7M1510.3 701.2h27.4M1524 687.6v27.4M1510.3 687.6l27.4 27.4M1510.3 714.9l27.4 -27.4M1511.5 698.3h24.6M1523.8 685.9v24.6M1511.5 685.9l24.6 24.6M1511.5 710.6l24.6 -24.6M1516.8 698.7h25.5M1529.5 685.9v25.5M1516.8 685.9l25.5 25.5M1516.8 711.4l25.5 -25.5M1519 697.4h25.4M1531.7 684.7v25.4M1519 684.7l25.4 25.4M1519 710.1l25.4 -25.4M1522.9 697.2h25M1535.4 684.7v25M1522.9 684.7l25 25M1522.9 709.7l25 -25M1521.9 694.9h30M1536.9 679.9v30M1521.9 679.9l30 30M1521.9 709.9l30 -30M1524.9 692.3h30.8M1540.3 676.9v30.8M1524.9 676.9l30.8 30.8M1524.9 707.7l30.8 -30.8M1525.4 691.5h29.1M1539.9 677v29.1M1525.4 677l29.1 29.1M1525.4 706l29.1 -29.1M1531 690.4h23.3M1542.7 678.8v23.3M1531 678.8l23.3 23.3M1531 702.1l23.3 -23.3M1534.1 690.3h27.6M1547.9 676.5v27.6M1534.1 676.5l27.6 27.6M1534.1 704.1l27.6 -27.6M1537.3 686.6h28.6M1551.5 672.3v28.6M1537.3 672.3l28.6 28.6M1537.3 700.9l28.6 -28.6M1539.4 686.4h26.6M1552.7 673v26.6M1539.4 673l26.6 26.6M1539.4 699.7l26.6 -26.6M1543.1 686.6h26.8M1556.5 673.2v26.8M1543.1 673.2l26.8 26.8M1543.1 700l26.8 -26.8M1543.8 680.6h28.6M1558.1 666.3v28.6M1543.8 666.3l28.6 28.6M1543.8 694.9l28.6 -28.6M1545.7 683.5h29.6M1560.5 668.8v29.6M1545.7 668.8l29.6 29.6M1545.7 698.3l29.6 -29.6M1546.9 678.7h28.3M1561.1 664.5v28.3M1546.9 664.5l28.3 28.3M1546.9 692.9l28.3 -28.3M1549.9 677.2h24.3M1562.1 665v24.3M1549.9 665l24.3 24.3M1549.9 689.3l24.3 -24.3M1550.3 673.2h29.1M1564.8 658.6v29.1M1550.3 658.6l29.1 29.1M1550.3 687.7l29.1 -29.1M1554 672.1h26.1M1567.1 659v26.1M1554 659l26.1 26.1M1554 685.1l26.1 -26.1M1559.7 669.2h26.6M1573 655.9v26.6M1559.7 655.9l26.6 26.6M1559.7 682.5l26.6 -26.6M1558.9 671.3h29.6M1573.7 656.5v29.6M1558.9 656.5l29.6 29.6M1558.9 686l29.6 -29.6M1564.4 666.3h26.3M1577.5 653.1v26.3M1564.4 653.1l26.3 26.3M1564.4 679.5l26.3 -26.3M1562 667.4h30.7M1577.3 652.1v30.7M1562 652.1l30.7 30.7M1562 682.8l30.7 -30.7M1566.2 662h24.9M1578.6 649.5v24.9M1566.2 649.5l24.9 24.9M1566.2 674.4l24.9 -24.9M1567.5 661.6h27.7M1581.3 647.8v27.7M1567.5 647.8l27.7 27.7M1567.5 675.5l27.7 -27.7M1570.6 657.3h26.4M1583.8 644.1v26.4M1570.6 644.1l26.4 26.4M1570.6 670.5l26.4 -26.4M1571.3 658.2h30.6M1586.7 642.9v30.6M1571.3 642.9l30.6 30.6M1571.3 673.5l30.6 -30.6M1576.6 656.1h27.9M1590.6 642.1v27.9M1576.6 642.1l27.9 27.9M1576.6 670l27.9 -27.9M1577.8 651.9h30.2M1592.8 636.8v30.2M1577.8 636.8l30.2 30.2M1577.8 667l30.2 -30.2M1581 654.1h29.4M1595.7 639.4v29.4M1581 639.4l29.4 29.4M1581 668.8l29.4 -29.4M1584.2 649.9h23.8M1596.1 637.9v23.8M1584.2 637.9l23.8 23.8M1584.2 661.8l23.8 -23.8M1587.9 646.3h23.5M1599.7 634.5v23.5M1587.9 634.5l23.5 23.5M1587.9 658.1l23.5 -23.5M1587 645h25.7M1599.9 632.1v25.7M1587 632.1l25.7 25.7M1587 657.8l25.7 -25.7M1589.4 642.3h24.2M1601.5 630.2v24.2M1589.4 630.2l24.2 24.2M1589.4 654.4l24.2 -24.2M1592.5 642.2h23.2M1604.1 630.6v23.2M1592.5 630.6l23.2 23.2M1592.5 653.8l23.2 -23.2M1598.2 641.6h24.2M1610.3 629.6v24.2M1598.2 629.6l24.2 24.2M1598.2 653.7l24.2 -24.2M1596.6 638.5h25.9M1609.6 625.5v25.9M1596.6 625.5l25.9 25.9M1596.6 651.4l25.9 -25.9M1595.8 639.1h30.9M1611.3 623.7v30.9M1595.8 623.7l30.9 30.9M1595.8 654.6l30.9 -30.9M1603.5 635.5h23.7M1615.4 623.6v23.7M1603.5 623.6l23.7 23.7M1603.5 647.3l23.7 -23.7M1603.3 632.9h25.1M1615.9 620.3v25.1M1603.3 620.3l25.1 25.1M1603.3 645.5l25.1 -25.1M1610.3 630.2h23.2M1621.9 618.6v23.2M1610.3 618.6l23.2 23.2M1610.3 641.8l23.2 -23.2M1612.8 630.2h24.2M1624.9 618.1v24.2M1612.8 618.1l24.2 24.2M1612.8 642.2l24.2 -24.2M1611.6 625.8h27.2M1625.2 612.2v27.2M1611.6 612.2l27.2 27.2M1611.6 639.4l27.2 -27.2M1615.5 628.2h28.6M1629.8 613.9v28.6M1615.5 613.9l28.6 28.6M1615.5 642.5l28.6 -28.6M1616.4 623.9h24.3M1628.6 611.7v24.3M1616.4 611.7l24.3 24.3M1616.4 636l24.3 -24.3M1618.9 622.9h29.2M1633.5 608.2v29.2M1618.9 608.2l29.2 29.2M1618.9 637.5l29.2 -29.2M1618.9 619.5h29.5M1633.7 604.7v29.5M1618.9 604.7l29.5 29.5M1618.9 634.2l29.5 -29.5M1624.6 620.8h29.4M1639.3 606.1v29.4M1624.6 606.1l29.4 29.4M1624.6 635.5l29.4 -29.4M1628.5 618.5h24.8M1640.9 606v24.8M1628.5 606l24.8 24.8M1628.5 630.9l24.8 -24.8M1630.2 614.7h23.2M1641.8 603.1v23.2M1630.2 603.1l23.2 23.2M1630.2 626.3l23.2 -23.2M1629.2 612.6h25.1M1641.8 600v25.1M1629.2 600l25.1 25.1M1629.2 625.1l25.1 -25.1M1634.2 614.1h26.6M1647.5 600.9v26.6M1634.2 600.9l26.6 26.6M1634.2 627.4l26.6 -26.6M1635.8 612.5h30.6M1651.1 597.2v30.6M1635.8 597.2l30.6 30.6M1635.8 627.8l30.6 -30.6M1638.3 606.9h24.8M1650.7 594.5v24.8M1638.3 594.5l24.8 24.8M1638.3 619.3l24.8 -24.8M1638.2 605h28M1652.2 591v28M1638.2 591l28 28M1638.2 619l28 -28M1644.8 606.4h26.8M1658.2 593v26.8M1644.8 593l26.8 26.8M1644.8 619.9l26.8 -26.8M1647.5 604.5h23.7M1659.4 592.6v23.7M1647.5 592.6l23.7 23.7M1647.5 616.3l23.7 -23.7M1647.2 603.2h29.3M1661.8 588.6v29.3M1647.2 588.6l29.3 29.3M1647.2 617.9l29.3 -29.3M1652.5 599.3h24.4M1664.7 587.1v24.4M1652.5 587.1l24.4 24.4M1652.5 611.5l24.4 -24.4M1652.6 596.8h29.4M1667.3 582.1v29.4M1652.6 582.1l29.4 29.4M1652.6 611.5l29.4 -29.4M1657.5 595.3h26.2M1670.6 582.2v26.2M1657.5 582.2l26.2 26.2M1657.5 608.4l26.2 -26.2M1660.7 595.2h24.4M1672.9 583v24.4M1660.7 583l24.4 24.4M1660.7 607.3l24.4 -24.4M1656.1 590.5h30.2M1671.2 575.4v30.2M1656.1 575.4l30.2 30.2M1656.1 605.6l30.2 -30.2M1662.2 588.7h29.6M1677 573.8v29.6M1662.2 573.8l29.6 29.6M1662.2 603.5l29.6 -29.6M1667.3 589.4h25.8M1680.2 576.5v25.8M1667.3 576.5l25.8 25.8M1667.3 602.3l25.8 -25.8M1668.9 584.9h23.1M1680.4 573.4v23.1M1668.9 573.4l23.1 23.1M1668.9 596.5l23.1 -23.1M1671.3 585.7h27.2M1684.9 572.1v27.2M1671.3 572.1l27.2 27.2M1671.3 599.3l27.2 -27.2M1672.1 582.8h30M1687.1 567.8v30M1672.1 567.8l30 30M1672.1 597.7l30 -30M1676.4 579.8h25M1688.9 567.3v25M1676.4 567.3l25 25M1676.4 592.3l25 -25M1674.8 578.1h27.7M1688.6 564.2v27.7M1674.8 564.2l27.7 27.7M1674.8 591.9l27.7 -27.7M1678.8 577.1h24M1690.8 565.1v24M1678.8 565.1l24 24M1678.8 589.1l24 -24M1683.1 574.9h26.7M1696.4 561.6v26.7M1683.1 561.6l26.7 26.7M1683.1 588.2l26.7 -26.7M1683.9 575.8h26.4M1697.1 562.6v26.4M1683.9 562.6l26.4 26.4M1683.9 589l26.4 -26.4M1687.5 571.9h27.3M1701.1 558.3v27.3M1687.5 558.3l27.3 27.3M1687.5 585.6l27.3 -27.3M1688.3 567.7h26.5M1701.5 554.4v26.5M1688.3 554.4l26.5 26.5M1688.3 580.9l26.5 -26.5M1687.5 565.8h29.4M1702.2 551.1v29.4M1687.5 551.1l29.4 29.4M1687.5 580.4l29.4 -29.4M1690.1 566.3h28.8M1704.5 551.9v28.8M1690.1 551.9l28.8 28.8M1690.1 580.7l28.8 -28.8M1695.3 563.7h27.1M1708.8 550.1v27.1M1695.3 550.1l27.1 27.1M1695.3 577.3l27.1 -27.1M1699.3 564.2h23.8M1711.2 552.3v23.8M1699.3 552.3l23.8 23.8M1699.3 576.1l23.8 -23.8M1701.1 559.8h25.2M1713.7 547.2v25.2M1701.1 547.2l25.2 25.2M1701.1 572.4l25.2 -25.2M1703.4 559.3h27.5M1717.2 545.6v27.5M1703.4 545.6l27.5 27.5M1703.4 573l27.5 -27.5M1706.3 559.6h26.5M1719.5 546.3v26.5M1706.3 546.3l26.5 26.5M1706.3 572.8l26.5 -26.5M1707.7 555.8h27.1M1721.3 542.3v27.1M1707.7 542.3l27.1 27.1M1707.7 569.4l27.1 -27.1M1710.5 553.8h27.3M1724.1 540.2v27.3M1710.5 540.2l27.3 27.3M1710.5 567.5l27.3 -27.3M1711.2 554.5h28.6M1725.5 540.3v28.6M1711.2 540.3l28.6 28.6M1711.2 568.8l28.6 -28.6M1717.4 552.8h25.1M1730 540.3v25.1M1717.4 540.3l25.1 25.1M1717.4 565.4l25.1 -25.1M1716 551.1h29.7M1730.8 536.3v29.7M1716 536.3l29.7 29.7M1716 566l29.7 -29.7M1717.9 545.3h26.5M1731.2 532v26.5M1717.9 532l26.5 26.5M1717.9 558.6l26.5 -26.5M1721.5 544.2h23.6M1733.3 532.4v23.6M1721.5 532.4l23.6 23.6M1721.5 556l23.6 -23.6M1723.6 545.1h30.2M1738.7 530.1v30.2M1723.6 530.1l30.2 30.2M1723.6 560.2l30.2 -30.2M1724.4 543h28.3M1738.6 528.9v28.3M1724.4 528.9l28.3 28.3M1724.4 557.2l28.3 -28.3M1725.6 542.1h30.7M1741 526.7v30.7M1725.6 526.7l30.7 30.7M1725.6 557.5l30.7 -30.7M1730.6 540.7h26.2M1743.7 527.6v26.2M1730.6 527.6l26.2 26.2M1730.6 553.8l26.2 -26.2M1732.7 539h29.7M1747.5 524.2v29.7M1732.7 524.2l29.7 29.7M1732.7 553.9l29.7 -29.7M1734.7 534.5h27.1M1748.2 520.9v27.1M1734.7 520.9l27.1 27.1M1734.7 548l27.1 -27.1M1738.7 531.5h25.5M1751.5 518.7v25.5M1738.7 518.7l25.5 25.5M1738.7 544.2l25.5 -25.5M1742.1 528.7h27.4M1755.8 515v27.4M1742.1 515l27.4 27.4M1742.1 542.5l27.4 -27.4M1743.9 526.9h25.7M1756.8 514v25.7M1743.9 514l25.7 25.7M1743.9 539.7l25.7 -25.7M1748.3 527.5h23.5M1760 515.7v23.5M1748.3 515.7l23.5 23.5M1748.3 539.2l23.5 -23.5M1748.8 526.9h30.8M1764.1 511.6v30.8M1748.8 511.6l30.8 30.8M1748.8 542.3l30.8 -30.8M1750.4 522.4h23.3M1762 510.7v23.3M1750.4 510.7l23.3 23.3M1750.4 534.1l23.3 -23.3M1755.7 520.5h24M1767.7 508.5v24M1755.7 508.5l24 24M1755.7 532.5l24 -24M1753.4 521.7h29.6M1768.1 506.9v29.6M1753.4 506.9l29.6 29.6M1753.4 536.5l29.6 -29.6M1754.4 515.9h30.4M1769.6 500.7v30.4M1754.4 500.7l30.4 30.4M1754.4 531l30.4 -30.4M1761.5 516.6h23.7M1773.3 504.7v23.7M1761.5 504.7l23.7 23.7M1761.5 528.4l23.7 -23.7M1759.7 514.5h26.4M1772.9 501.3v26.4M1759.7 501.3l26.4 26.4M1759.7 527.7l26.4 -26.4M1761.1 513.6h28.1M1775.2 499.6v28.1M1761.1 499.6l28.1 28.1M1761.1 527.7l28.1 -28.1M1766 507.3h29.8M1781 492.4v29.8M1766 492.4l29.8 29.8M1766 522.2l29.8 -29.8M1766.1 509.1h26.6M1779.4 495.8v26.6M1766.1 495.8l26.6 26.6M1766.1 522.4l26.6 -26.6M1767.7 505.4h30.4M1782.9 490.2v30.4M1767.7 490.2l30.4 30.4M1767.7 520.6l30.4 -30.4M1771.1 501.2h27.2M1784.7 487.6v27.2M1771.1 487.6l27.2 27.2M1771.1 514.8l27.2 -27.2M1774.6 499h24.3M1786.7 486.8v24.3M1774.6 486.8l24.3 24.3M1774.6 511.1l24.3 -24.3M1775.2 497.3h25.5M1787.9 484.6v25.5M1775.2 484.6l25.5 25.5M1775.2 510.1l25.5 -25.5M1778.7 498h25.3M1791.3 485.4v25.3M1778.7 485.4l25.3 25.3M1778.7 510.7l25.3 -25.3M1781.5 493h25.8M1794.4 480.1v25.8M1781.5 480.1l25.8 25.8M1781.5 505.9l25.8 -25.8M1782.6 491.3h23.1M1794.1 479.7v23.1M1782.6 479.7l23.1 23.1M1782.6 502.8l23.1 -23.1M1787.6 490.6h24.5M1799.8 478.4v24.5M1787.6 478.4l24.5 24.5M1787.6 502.9l24.5 -24.5M1788.7 490.4h23.9M1800.7 478.5v23.9M1788.7 478.5l23.9 23.9M1788.7 502.4l23.9 -23.9M1791 485.8h27M1804.5 472.3v27M1791 472.3l27 27M1791 499.3l27 -27M1793.2 483.5h27.1M1806.7 470v27.1M1793.2 470l27.1 27.1M1793.2 497l27.1 -27.1M1795.2 484.3h25.7M1808.1 471.4v25.7M1795.2 471.4l25.7 25.7M1795.2 497.2l25.7 -25.7M1796.9 480.8h28.1M1810.9 466.8v28.1M1796.9 466.8l28.1 28.1M1796.9 494.8l28.1 -28.1M1799.2 476.9h23.4M1810.9 465.2v23.4M1799.2 465.2l23.4 23.4M1799.2 488.6l23.4 -23.4M1797.2 473.4h28.9M1811.6 458.9v28.9M1797.2 458.9l28.9 28.9M1797.2 487.8l28.9 -28.9M1802.6 471.7h23.7M1814.4 459.9v23.7M1802.6 459.9l23.7 23.7M1802.6 483.5l23.7 -23.7M1803.5 474.9h28.4M1817.7 460.7v28.4M1803.5 460.7l28.4 28.4M1803.5 489l28.4 -28.4"/>
<path fill="none" stroke="#ff14ff" stroke-width="19" stroke-linecap="round" d="M1415 758L1417.4 756.7L1420.4 755.1L1424 753.2L1428.1 751L1432.5 748.6L1437.2 746.1L1442.1 743.6L1447 741L1452.3 738.3L1458.1 735.3L1464.2 732.2L1470.6 728.9L1476.9 725.7L1483 722.6L1488.8 719.7L1494 717L1498.6 714.6L1502.9 712.5L1506.8 710.5L1510.4 708.6L1514 706.8L1517.6 705L1521.2 703L1525 701L1529 698.8L1533.3 696.6L1537.5 694.3L1541.8 691.9L1546 689.6L1550 687.3L1553.7 685.1L1557 683L1559.9 681"/>
<path fill="none" stroke="#ff14ff" stroke-width="14" stroke-linecap="round" d="M1546 689.6L1550 687.3L1553.7 685.1L1557 683L1559.9 681L1562.3 679.1L1564.5 677.4L1566.5 675.6L1568.4 673.8L1570.4 672L1572.6 670.1L1575 668L1577.6 665.8L1580.2 663.7L1582.9 661.5L1585.8 659.2L1588.7 656.7L1591.9 654.2L1595.3 651.4L1599 648.5L1603.1 645.3L1607.5 641.8L1612.2 638.1L1617.1 634.3L1622.1 630.5L1627.1 626.6L1632.1 622.7L1637 619L1641.9 615.3L1646.8 611.7"/>
<path fill="none" stroke="#ff14ff" stroke-width="13" stroke-linecap="round" d="M1632.1 622.7L1637 619L1641.9 615.3L1646.8 611.7L1651.8 608L1656.8 604.3L1661.7 600.7L1666.6 597.1L1671.4 593.5L1676 590L1680.5 586.5L1684.9 583.1L1689.2 579.7L1693.4 576.4L1697.5 573.1L1701.7 569.9L1705.8 566.7L1710 563.5L1714.2 560.4L1718.5 557.3L1722.8 554.3L1727.1 551.3L1731.3 548.4L1735.4 545.5L1739.3 542.7L1743 540L1746.4 537.4L1749.6 535L1752.7 532.7L1755.6 530.5L1758.4 528.2L1761.2 525.9L1764.1 523.5L1767 521L1770 518.3L1773 515.6L1776 512.8L1778.9 509.9L1781.9 506.9L1784.9 504L1788 501L1791 498L1794.2 494.8L1797.8 491.3L1801.4 487.7L1805 484.1L1808.4 480.6L1811.5 477.5L1814.1 474.9L1816 473"/>
<path fill="none" stroke="#ff55ff" stroke-width="2.3" d="M482.5 991.5h31M498 976v31M482.5 976l31 31M482.5 1007l31 -31M496 985h31M511.5 969.5v31M496 969.5l31 31M496 1000.5l31 -31M508.5 977h31M524 961.5v31M508.5 961.5l31 31M508.5 992.5l31 -31M515.5 975h31M531 959.5v31M515.5 959.5l31 31M515.5 990.5l31 -31M534.5 967h31M550 951.5v31M534.5 951.5l31 31M534.5 982.5l31 -31M545.5 965h31M561 949.5v31M545.5 949.5l31 31M545.5 980.5l31 -31M569.5 947h31M585 931.5v31M569.5 931.5l31 31M569.5 962.5l31 -31M583.5 944h31M599 928.5v31M583.5 928.5l31 31M583.5 959.5l31 -31M608.2 935.6h31M623.7 920.1v31M608.2 920.1l31 31M608.2 951.1l31 -31M626.9 926.3h31M642.4 910.8v31M626.9 910.8l31 31M626.9 941.8l31 -31M653.5 917.9h31M669 902.4v31M653.5 902.4l31 31M653.5 933.4l31 -31M675 910.4h31M690.5 894.9v31M675 894.9l31 31M675 925.9l31 -31M702.1 902.5h31M717.6 887v31M702.1 887l31 31M702.1 918l31 -31M725.9 897.3h31M741.4 881.8v31M725.9 881.8l31 31M725.9 912.8l31 -31M755.8 887.1h31M771.3 871.6v31M755.8 871.6l31 31M755.8 902.6l31 -31M768.8 880.5h31M784.3 865v31M768.8 865l31 31M768.8 896l31 -31M782.5 879h31M798 863.5v31M782.5 863.5l31 31M782.5 894.5l31 -31"/>
<path fill="none" stroke="#ff1cff" stroke-width="2.4" d="M801.5 877.2h31M817 861.7v31M801.5 861.7l31 31M801.5 892.7l31 -31M804.5 876.9h31M820 861.4v31M804.5 861.4l31 31M804.5 892.4l31 -31M807.5 876.6h31M823 861.1v31M807.5 861.1l31 31M807.5 892.1l31 -31M810.4 876.3h31M825.9 860.8v31M810.4 860.8l31 31M810.4 891.8l31 -31M813.4 876.1h31M828.9 860.6v31M813.4 860.6l31 31M813.4 891.6l31 -31M816.4 875.8h31M831.9 860.3v31M816.4 860.3l31 31M816.4 891.3l31 -31M819.4 875.5h31M834.9 860v31M819.4 860l31 31M819.4 891l31 -31M822.4 875.2h31M837.9 859.7v31M822.4 859.7l31 31M822.4 890.7l31 -31M825.4 874.9h31M840.9 859.4v31M825.4 859.4l31 31M825.4 890.4l31 -31M828.4 874.6h31M843.9 859.1v31M828.4 859.1l31 31M828.4 890.1l31 -31M831.3 874.3h31M846.8 858.8v31M831.3 858.8l31 31M831.3 889.8l31 -31M834.3 874h31M849.8 858.5v31M834.3 858.5l31 31M834.3 889.5l31 -31M837.3 873.7h31M852.8 858.2v31M837.3 858.2l31 31M837.3 889.2l31 -31M840.3 873.4h31M855.8 857.9v31M840.3 857.9l31 31M840.3 888.9l31 -31M843.3 873.1h31M858.8 857.6v31M843.3 857.6l31 31M843.3 888.6l31 -31M846.3 872.7h31M861.8 857.2v31M846.3 857.2l31 31M846.3 888.2l31 -31M849.2 872.4h31M864.7 856.9v31M849.2 856.9l31 31M849.2 887.9l31 -31M852.2 872.1h31M867.7 856.6v31M852.2 856.6l31 31M852.2 887.6l31 -31M855.2 871.7h31M870.7 856.2v31M855.2 856.2l31 31M855.2 887.2l31 -31M858.2 871.4h31M873.7 855.9v31M858.2 855.9l31 31M858.2 886.9l31 -31M861.2 871.1h31M876.7 855.6v31M861.2 855.6l31 31M861.2 886.6l31 -31M864.2 870.8h31M879.7 855.3v31M864.2 855.3l31 31M864.2 886.3l31 -31M867.1 870.5h31M882.6 855v31M867.1 855l31 31M867.1 886l31 -31M870.1 870.2h31M885.6 854.7v31M870.1 854.7l31 31M870.1 885.7l31 -31M873.1 869.9h31M888.6 854.4v31M873.1 854.4l31 31M873.1 885.4l31 -31M876.1 869.7h31M891.6 854.2v31M876.1 854.2l31 31M876.1 885.2l31 -31M879.1 869.4h31M894.6 853.9v31M879.1 853.9l31 31M879.1 884.9l31 -31M882.1 869.2h31M897.6 853.7v31M882.1 853.7l31 31M882.1 884.7l31 -31M885.1 869h31M900.6 853.5v31M885.1 853.5l31 31M885.1 884.5l31 -31M888.1 868.8h31M903.6 853.3v31M888.1 853.3l31 31M888.1 884.3l31 -31M891.1 868.6h31M906.6 853.1v31M891.1 853.1l31 31M891.1 884.1l31 -31M894.1 868.4h31M909.6 852.9v31M894.1 852.9l31 31M894.1 883.9l31 -31M897.1 868.2h31M912.6 852.7v31M897.1 852.7l31 31M897.1 883.7l31 -31M900 868h31M915.5 852.5v31M900 852.5l31 31M900 883.5l31 -31M903 867.8h31M918.5 852.3v31M903 852.3l31 31M903 883.3l31 -31M906 867.7h31M921.5 852.2v31M906 852.2l31 31M906 883.2l31 -31M909 867.5h31M924.5 852v31M909 852l31 31M909 883l31 -31M912 867.3h31M927.5 851.8v31M912 851.8l31 31M912 882.8l31 -31M915 867.2h31M930.5 851.7v31M915 851.7l31 31M915 882.7l31 -31M918 867h31M933.5 851.5v31M918 851.5l31 31M918 882.5l31 -31M921 866.8h31M936.5 851.3v31M921 851.3l31 31M921 882.3l31 -31M924 866.7h31M939.5 851.2v31M924 851.2l31 31M924 882.2l31 -31M927 866.5h31M942.5 851v31M927 851l31 31M927 882l31 -31M930 866.4h31M945.5 850.9v31M930 850.9l31 31M930 881.9l31 -31M933 866.3h31M948.5 850.8v31M933 850.8l31 31M933 881.8l31 -31M936 866.1h31M951.5 850.6v31M936 850.6l31 31M936 881.6l31 -31M939 866h31M954.5 850.5v31M939 850.5l31 31M939 881.5l31 -31M942 865.8h31M957.5 850.3v31M942 850.3l31 31M942 881.3l31 -31M945 865.7h31M960.5 850.2v31M945 850.2l31 31M945 881.2l31 -31M948 865.5h31M963.5 850v31M948 850l31 31M948 881l31 -31M951 865.4h31M966.5 849.9v31M951 849.9l31 31M951 880.9l31 -31M954 865.3h31M969.5 849.8v31M954 849.8l31 31M954 880.8l31 -31M957 865.1h31M972.5 849.6v31M957 849.6l31 31M957 880.6l31 -31M960 865h31M975.5 849.5v31M960 849.5l31 31M960 880.5l31 -31M963 864.9h31M978.5 849.4v31M963 849.4l31 31M963 880.4l31 -31M966 864.7h31M981.5 849.2v31M966 849.2l31 31M966 880.2l31 -31M969 864.6h31M984.5 849.1v31M969 849.1l31 31M969 880.1l31 -31M972 864.5h31M987.5 849v31M972 849l31 31M972 880l31 -31M975 864.4h31M990.5 848.9v31M975 848.9l31 31M975 879.9l31 -31M978 864.4h31M993.5 848.9v31M978 848.9l31 31M978 879.9l31 -31M981 864.3h31M996.5 848.8v31M981 848.8l31 31M981 879.8l31 -31M984 864.2h31M999.5 848.7v31M984 848.7l31 31M984 879.7l31 -31M987 864.1h31M1002.5 848.6v31M987 848.6l31 31M987 879.6l31 -31M990 864.1h31M1005.5 848.6v31M990 848.6l31 31M990 879.6l31 -31M993 864h31M1008.5 848.5v31M993 848.5l31 31M993 879.5l31 -31M996 863.9h31M1011.5 848.4v31M996 848.4l31 31M996 879.4l31 -31M999 863.8h31M1014.5 848.3v31M999 848.3l31 31M999 879.3l31 -31M1001.9 863.7h31M1017.4 848.2v31M1001.9 848.2l31 31M1001.9 879.2l31 -31M1004.9 863.6h31M1020.4 848.1v31M1004.9 848.1l31 31M1004.9 879.1l31 -31M1007.9 863.5h31M1023.4 848v31M1007.9 848l31 31M1007.9 879l31 -31M1010.9 863.4h31M1026.4 847.9v31M1010.9 847.9l31 31M1010.9 878.9l31 -31M1013.9 863.3h31M1029.4 847.8v31M1013.9 847.8l31 31M1013.9 878.8l31 -31M1016.9 863.2h31M1032.4 847.7v31M1016.9 847.7l31 31M1016.9 878.7l31 -31M1019.9 863h31M1035.4 847.5v31M1019.9 847.5l31 31M1019.9 878.5l31 -31M1022.9 862.8h31M1038.4 847.3v31M1022.9 847.3l31 31M1022.9 878.3l31 -31M1025.9 862.6h31M1041.4 847.1v31M1025.9 847.1l31 31M1025.9 878.1l31 -31M1028.9 862.4h31M1044.4 846.9v31M1028.9 846.9l31 31M1028.9 877.9l31 -31M1031.9 862.2h31M1047.4 846.7v31M1031.9 846.7l31 31M1031.9 877.7l31 -31M1034.9 862h31M1050.4 846.5v31M1034.9 846.5l31 31M1034.9 877.5l31 -31M1037.9 861.7h31M1053.4 846.2v31M1037.9 846.2l31 31M1037.9 877.2l31 -31M1040.9 861.4h31M1056.4 845.9v31M1040.9 845.9l31 31M1040.9 876.9l31 -31M1043.9 861.1h31M1059.4 845.6v31M1043.9 845.6l31 31M1043.9 876.6l31 -31M1046.8 860.8h31M1062.3 845.3v31M1046.8 845.3l31 31M1046.8 876.3l31 -31M1049.8 860.4h31M1065.3 844.9v31M1049.8 844.9l31 31M1049.8 875.9l31 -31M1052.8 860.1h31M1068.3 844.6v31M1052.8 844.6l31 31M1052.8 875.6l31 -31M1055.8 859.7h31M1071.3 844.2v31M1055.8 844.2l31 31M1055.8 875.2l31 -31M1058.8 859.4h31M1074.3 843.9v31M1058.8 843.9l31 31M1058.8 874.9l31 -31M1061.7 859h31M1077.2 843.5v31M1061.7 843.5l31 31M1061.7 874.5l31 -31M1064.7 858.6h31M1080.2 843.1v31M1064.7 843.1l31 31M1064.7 874.1l31 -31M1067.7 858.2h31M1083.2 842.7v31M1067.7 842.7l31 31M1067.7 873.7l31 -31M1070.7 857.8h31M1086.2 842.3v31M1070.7 842.3l31 31M1070.7 873.3l31 -31M1073.6 857.4h31M1089.1 841.9v31M1073.6 841.9l31 31M1073.6 872.9l31 -31M1076.6 857h31M1092.1 841.5v31M1076.6 841.5l31 31M1076.6 872.5l31 -31M1079.6 856.5h31M1095.1 841v31M1079.6 841l31 31M1079.6 872l31 -31M1082.5 856.1h31M1098 840.6v31M1082.5 840.6l31 31M1082.5 871.6l31 -31M1085.5 855.7h31M1101 840.2v31M1085.5 840.2l31 31M1085.5 871.2l31 -31M1088.5 855.2h31M1104 839.7v31M1088.5 839.7l31 31M1088.5 870.7l31 -31M1091.4 854.8h31M1106.9 839.3v31M1091.4 839.3l31 31M1091.4 870.3l31 -31M1094.4 854.3h31M1109.9 838.8v31M1094.4 838.8l31 31M1094.4 869.8l31 -31M1097.4 853.9h31M1112.9 838.4v31M1097.4 838.4l31 31M1097.4 869.4l31 -31M1100.3 853.4h31M1115.8 837.9v31M1100.3 837.9l31 31M1100.3 868.9l31 -31M1103.3 853h31M1118.8 837.5v31M1103.3 837.5l31 31M1103.3 868.5l31 -31M1106.3 852.5h31M1121.8 837v31M1106.3 837l31 31M1106.3 868l31 -31M1109.2 852h31M1124.7 836.5v31M1109.2 836.5l31 31M1109.2 867.5l31 -31M1112.2 851.6h31M1127.7 836.1v31M1112.2 836.1l31 31M1112.2 867.1l31 -31M1115.2 851.1h31M1130.7 835.6v31M1115.2 835.6l31 31M1115.2 866.6l31 -31M1118.1 850.7h31M1133.6 835.2v31M1118.1 835.2l31 31M1118.1 866.2l31 -31M1121.1 850.3h31M1136.6 834.8v31M1121.1 834.8l31 31M1121.1 865.8l31 -31M1124.1 849.8h31M1139.6 834.3v31M1124.1 834.3l31 31M1124.1 865.3l31 -31M1127 849.4h31M1142.5 833.9v31M1127 833.9l31 31M1127 864.9l31 -31M1130 848.9h31M1145.5 833.4v31M1130 833.4l31 31M1130 864.4l31 -31M1133 848.5h31M1148.5 833v31M1133 833l31 31M1133 864l31 -31M1135.9 848h31M1151.4 832.5v31M1135.9 832.5l31 31M1135.9 863.5l31 -31M1138.9 847.6h31M1154.4 832.1v31M1138.9 832.1l31 31M1138.9 863.1l31 -31M1141.9 847.1h31M1157.4 831.6v31M1141.9 831.6l31 31M1141.9 862.6l31 -31M1144.8 846.7h31M1160.3 831.2v31M1144.8 831.2l31 31M1144.8 862.2l31 -31M1147.8 846.2h31M1163.3 830.7v31M1147.8 830.7l31 31M1147.8 861.7l31 -31M1150.7 845.7h31M1166.2 830.2v31M1150.7 830.2l31 31M1150.7 861.2l31 -31M1153.7 845.2h31M1169.2 829.7v31M1153.7 829.7l31 31M1153.7 860.7l31 -31M1156.7 844.7h31M1172.2 829.2v31M1156.7 829.2l31 31M1156.7 860.2l31 -31M1159.6 844.1h31M1175.1 828.6v31M1159.6 828.6l31 31M1159.6 859.6l31 -31M1162.6 843.6h31M1178.1 828.1v31M1162.6 828.1l31 31M1162.6 859.1l31 -31M1165.5 843.1h31M1181 827.6v31M1165.5 827.6l31 31M1165.5 858.6l31 -31M1168.5 842.5h31M1184 827v31M1168.5 827l31 31M1168.5 858l31 -31M1171.4 841.9h31M1186.9 826.4v31M1171.4 826.4l31 31M1171.4 857.4l31 -31M1174.3 841.3h31M1189.8 825.8v31M1174.3 825.8l31 31M1174.3 856.8l31 -31M1177.3 840.6h31M1192.8 825.1v31M1177.3 825.1l31 31M1177.3 856.1l31 -31M1180.2 840h31M1195.7 824.5v31M1180.2 824.5l31 31M1180.2 855.5l31 -31M1183.1 839.3h31M1198.6 823.8v31M1183.1 823.8l31 31M1183.1 854.8l31 -31M1186 838.6h31M1201.5 823.1v31M1186 823.1l31 31M1186 854.1l31 -31M1188.9 837.9h31M1204.4 822.4v31M1188.9 822.4l31 31M1188.9 853.4l31 -31M1191.8 837.2h31M1207.3 821.7v31M1191.8 821.7l31 31M1191.8 852.7l31 -31M1194.8 836.4h31M1210.3 820.9v31M1194.8 820.9l31 31M1194.8 851.9l31 -31M1197.6 835.6h31M1213.1 820.1v31M1197.6 820.1l31 31M1197.6 851.1l31 -31M1200.5 834.8h31M1216 819.3v31M1200.5 819.3l31 31M1200.5 850.3l31 -31M1203.4 834h31M1218.9 818.5v31M1203.4 818.5l31 31M1203.4 849.5l31 -31M1206.3 833.2h31M1221.8 817.7v31M1206.3 817.7l31 31M1206.3 848.7l31 -31M1209.2 832.4h31M1224.7 816.9v31M1209.2 816.9l31 31M1209.2 847.9l31 -31M1212.1 831.5h31M1227.6 816v31M1212.1 816l31 31M1212.1 847l31 -31M1215 830.7h31M1230.5 815.2v31M1215 815.2l31 31M1215 846.2l31 -31M1217.8 829.8h31M1233.3 814.3v31M1217.8 814.3l31 31M1217.8 845.3l31 -31M1220.7 828.9h31M1236.2 813.4v31M1220.7 813.4l31 31M1220.7 844.4l31 -31M1223.6 828h31M1239.1 812.5v31M1223.6 812.5l31 31M1223.6 843.5l31 -31M1226.4 827.1h31M1241.9 811.6v31M1226.4 811.6l31 31M1226.4 842.6l31 -31M1229.3 826.2h31M1244.8 810.7v31M1229.3 810.7l31 31M1229.3 841.7l31 -31M1232.1 825.3h31M1247.6 809.8v31M1232.1 809.8l31 31M1232.1 840.8l31 -31M1235 824.3h31M1250.5 808.8v31M1235 808.8l31 31M1235 839.8l31 -31M1237.9 823.4h30.8M1253.3 808v30.8M1237.9 808l30.8 30.8M1237.9 838.8l30.8 -30.8M1240.9 822.4h30.6M1256.2 807.1v30.6M1240.9 807.1l30.6 30.6M1240.9 837.7l30.6 -30.6M1243.8 821.5h30.4M1259 806.3v30.4M1243.8 806.3l30.4 30.4M1243.8 836.7l30.4 -30.4M1246.8 820.5h30.2M1261.8 805.4v30.2M1246.8 805.4l30.2 30.2M1246.8 835.6l30.2 -30.2M1249.7 819.5h30M1264.7 804.6v30M1249.7 804.6l30 30M1249.7 834.5l30 -30M1252.6 818.6h29.8M1267.5 803.7v29.8M1252.6 803.7l29.8 29.8M1252.6 833.5l29.8 -29.8M1255.6 817.6h29.6M1270.4 802.8v29.6M1255.6 802.8l29.6 29.6M1255.6 832.4l29.6 -29.6M1258.5 816.6h29.4M1273.2 801.9v29.4M1258.5 801.9l29.4 29.4M1258.5 831.3l29.4 -29.4M1261.4 815.6h29.2M1276 801v29.2M1261.4 801l29.2 29.2M1261.4 830.2l29.2 -29.2M1264.4 814.6h29M1278.9 800.1v29M1264.4 800.1l29 29M1264.4 829.1l29 -29M1267.3 813.6h28.8M1281.7 799.2v28.8M1267.3 799.2l28.8 28.8M1267.3 828l28.8 -28.8M1270.2 812.6h28.6M1284.5 798.3v28.6M1270.2 798.3l28.6 28.6M1270.2 826.9l28.6 -28.6M1273.1 811.6h28.4M1287.3 797.4v28.4M1273.1 797.4l28.4 28.4M1273.1 825.8l28.4 -28.4M1276.1 810.6h28.2M1290.2 796.5v28.2M1276.1 796.5l28.2 28.2M1276.1 824.7l28.2 -28.2M1279 809.5h28M1293 795.5v28M1279 795.5l28 28M1279 823.5l28 -28M1281.9 808.5h27.8M1295.8 794.6v27.8M1281.9 794.6l27.8 27.8M1281.9 822.4l27.8 -27.8M1284.8 807.4h27.6M1298.6 793.6v27.6M1284.8 793.6l27.6 27.6M1284.8 821.2l27.6 -27.6M1287.7 806.4h27.4M1301.4 792.7v27.4M1287.7 792.7l27.4 27.4M1287.7 820.1l27.4 -27.4M1290.6 805.3h27.2M1304.2 791.7v27.2M1290.6 791.7l27.2 27.2M1290.6 818.9l27.2 -27.2M1293.5 804.2h27M1307 790.7v27M1293.5 790.7l27 27M1293.5 817.7l27 -27M1296.4 803.2h26.8M1309.8 789.8v26.8M1296.4 789.8l26.8 26.8M1296.4 816.6l26.8 -26.8M1299.3 802.1h26.6M1312.6 788.8v26.6M1299.3 788.8l26.6 26.6M1299.3 815.4l26.6 -26.6M1302.2 801h26.4M1315.4 787.8v26.4M1302.2 787.8l26.4 26.4M1302.2 814.2l26.4 -26.4M1305.1 799.9h26.2M1318.2 786.8v26.2M1305.1 786.8l26.2 26.2M1305.1 813l26.2 -26.2M1308 798.8h26M1321 785.8v26M1308 785.8l26 26M1308 811.8l26 -26M1310.8 797.7h25.8M1323.8 784.8v25.8M1310.8 784.8l25.8 25.8M1310.8 810.6l25.8 -25.8M1313.7 796.6h25.6M1326.5 783.7v25.6M1313.7 783.7l25.6 25.6M1313.7 809.4l25.6 -25.6M1316.6 795.4h25.4M1329.3 782.7v25.4M1316.6 782.7l25.4 25.4M1316.6 808.2l25.4 -25.4M1319.5 794.3h25.3M1332.1 781.7v25.3M1319.5 781.7l25.3 25.3M1319.5 806.9l25.3 -25.3M1322.4 793.2h25.1M1334.9 780.7v25.1M1322.4 780.7l25.1 25.1M1322.4 805.7l25.1 -25.1M1325.2 792.1h24.9M1337.7 779.6v24.9M1325.2 779.6l24.9 24.9M1325.2 804.5l24.9 -24.9M1328.1 790.9h24.7M1340.5 778.6v24.7M1328.1 778.6l24.7 24.7M1328.1 803.3l24.7 -24.7M1331 789.8h24.5M1343.2 777.6v24.5M1331 777.6l24.5 24.5M1331 802l24.5 -24.5M1333.9 788.6h24.3M1346 776.5v24.3M1333.9 776.5l24.3 24.3M1333.9 800.8l24.3 -24.3M1336.7 787.5h24.1M1348.8 775.5v24.1M1336.7 775.5l24.1 24.1M1336.7 799.5l24.1 -24.1M1339.5 786.4h24M1351.5 774.4v24M1339.5 774.4l24 24M1339.5 798.4l24 -24M1342.3 785.2h24M1354.3 773.2v24M1342.3 773.2l24 24M1342.3 797.2l24 -24M1345.1 784h24M1357.1 772v24M1345.1 772l24 24M1345.1 796l24 -24M1347.8 782.9h24M1359.8 770.9v24M1347.8 770.9l24 24M1347.8 794.9l24 -24M1350.6 781.7h24M1362.6 769.7v24M1350.6 769.7l24 24M1350.6 793.7l24 -24M1353.4 780.5h24M1365.4 768.5v24M1353.4 768.5l24 24M1353.4 792.5l24 -24M1356.1 779.3h24M1368.1 767.3v24M1356.1 767.3l24 24M1356.1 791.3l24 -24M1358.9 778.1h24M1370.9 766.1v24M1358.9 766.1l24 24M1358.9 790.1l24 -24M1361.6 776.9h24M1373.6 764.9v24M1361.6 764.9l24 24M1361.6 788.9l24 -24M1364.3 775.7h24M1376.3 763.7v24M1364.3 763.7l24 24M1364.3 787.7l24 -24M1367.1 774.5h24M1379.1 762.5v24M1367.1 762.5l24 24M1367.1 786.5l24 -24M1369.8 773.2h24M1381.8 761.2v24M1369.8 761.2l24 24M1369.8 785.2l24 -24M1372.6 772h24M1384.6 760v24M1372.6 760l24 24M1372.6 784l24 -24M1375.3 770.8h24M1387.3 758.8v24M1375.3 758.8l24 24M1375.3 782.8l24 -24M1378 769.6h24M1390 757.6v24M1378 757.6l24 24M1378 781.6l24 -24M1380.8 768.3h24M1392.8 756.3v24M1380.8 756.3l24 24M1380.8 780.3l24 -24M1383.5 767.1h24M1395.5 755.1v24M1383.5 755.1l24 24M1383.5 779.1l24 -24M1386.2 765.8h24M1398.2 753.8v24M1386.2 753.8l24 24M1386.2 777.8l24 -24M1389 764.6h24M1401 752.6v24M1389 752.6l24 24M1389 776.6l24 -24M1391.7 763.3h24M1403.7 751.3v24M1391.7 751.3l24 24M1391.7 775.3l24 -24M1394.4 762h24M1406.4 750v24M1394.4 750l24 24M1394.4 774l24 -24M1397.1 760.8h24M1409.1 748.8v24M1397.1 748.8l24 24M1397.1 772.8l24 -24M1399.8 759.5h24M1411.8 747.5v24M1399.8 747.5l24 24M1399.8 771.5l24 -24M1402.5 758.2h24M1414.5 746.2v24M1402.5 746.2l24 24M1402.5 770.2l24 -24M1405.2 756.9h24M1417.2 744.9v24M1405.2 744.9l24 24M1405.2 768.9l24 -24M1407.9 755.6h24M1419.9 743.6v24M1407.9 743.6l24 24M1407.9 767.6l24 -24M1410.6 754.3h24M1422.6 742.3v24M1410.6 742.3l24 24M1410.6 766.3l24 -24M1413.3 752.9h24M1425.3 740.9v24M1413.3 740.9l24 24M1413.3 764.9l24 -24M1415.9 751.5h24M1427.9 739.5v24M1415.9 739.5l24 24M1415.9 763.5l24 -24M1418.6 750h24M1430.6 738v24M1418.6 738l24 24M1418.6 762l24 -24M1421.2 748.6h24M1433.2 736.6v24M1421.2 736.6l24 24M1421.2 760.6l24 -24M1423.8 747.1h24M1435.8 735.1v24M1423.8 735.1l24 24M1423.8 759.1l24 -24M1426.4 745.6h24M1438.4 733.6v24M1426.4 733.6l24 24M1426.4 757.6l24 -24M1429 744.2h24M1441 732.2v24M1429 732.2l24 24M1429 756.2l24 -24M1431.7 742.8h24M1443.7 730.8v24M1431.7 730.8l24 24M1431.7 754.8l24 -24M1434.3 741.4h24M1446.3 729.4v24M1434.3 729.4l24 24M1434.3 753.4l24 -24M1437 740h24M1449 728v24M1437 728l24 24M1437 752l24 -24M1439.7 738.6h24M1451.7 726.6v24M1439.7 726.6l24 24M1439.7 750.6l24 -24M1442.3 737.2h24M1454.3 725.2v24M1442.3 725.2l24 24M1442.3 749.2l24 -24M1445 735.9h24M1457 723.9v24M1445 723.9l24 24M1445 747.9l24 -24M1447.7 734.5h24M1459.7 722.5v24M1447.7 722.5l24 24M1447.7 746.5l24 -24M1450.3 733.1h24M1462.3 721.1v24M1450.3 721.1l24 24M1450.3 745.1l24 -24M1453 731.8h24M1465 719.8v24M1453 719.8l24 24M1453 743.8l24 -24M1455.7 730.4h24M1467.7 718.4v24M1455.7 718.4l24 24M1455.7 742.4l24 -24M1458.4 729h24M1470.4 717v24M1458.4 717l24 24M1458.4 741l24 -24M1461 727.7h24M1473 715.7v24M1461 715.7l24 24M1461 739.7l24 -24M1463.7 726.3h24M1475.7 714.3v24M1463.7 714.3l24 24M1463.7 738.3l24 -24M1466.4 725h24M1478.4 713v24M1466.4 713l24 24M1466.4 737l24 -24M1469.1 723.6h24M1481.1 711.6v24M1469.1 711.6l24 24M1469.1 735.6l24 -24M1471.7 722.2h24M1483.7 710.2v24M1471.7 710.2l24 24M1471.7 734.2l24 -24M1474.4 720.9h24M1486.4 708.9v24M1474.4 708.9l24 24M1474.4 732.9l24 -24M1477.1 719.5h24M1489.1 707.5v24M1477.1 707.5l24 24M1477.1 731.5l24 -24M1479.8 718.1h24M1491.8 706.1v24M1479.8 706.1l24 24M1479.8 730.1l24 -24M1482.4 716.8h24M1494.4 704.8v24M1482.4 704.8l24 24M1482.4 728.8l24 -24M1485.1 715.4h24M1497.1 703.4v24M1485.1 703.4l24 24M1485.1 727.4l24 -24M1487.8 714h24M1499.8 702v24M1487.8 702l24 24M1487.8 726l24 -24M1490.4 712.7h24M1502.4 700.7v24M1490.4 700.7l24 24M1490.4 724.7l24 -24M1493.1 711.3h24M1505.1 699.3v24M1493.1 699.3l24 24M1493.1 723.3l24 -24M1495.8 709.9h24M1507.8 697.9v24M1495.8 697.9l24 24M1495.8 721.9l24 -24M1498.4 708.5h24M1510.4 696.5v24M1498.4 696.5l24 24M1498.4 720.5l24 -24M1501.1 707.2h24M1513.1 695.2v24M1501.1 695.2l24 24M1501.1 719.2l24 -24M1503.8 705.8h24M1515.8 693.8v24M1503.8 693.8l24 24M1503.8 717.8l24 -24M1506.4 704.4h24M1518.4 692.4v24M1506.4 692.4l24 24M1506.4 716.4l24 -24M1509.1 703h24M1521.1 691v24M1509.1 691l24 24M1509.1 715l24 -24M1511.7 701.6h24M1523.7 689.6v24M1511.7 689.6l24 24M1511.7 713.6l24 -24M1513 701h24M1525 689v24M1513 689l24 24M1513 713l24 -24"/>
<path fill="none" stroke="#00009a" stroke-width="3.2" d="M940 851.5L942 851.5L944 851.4L946 851.3L948 851.3L950 851.2L952 851.1L954 851.1L956 851L958 850.9L960 850.9L962 850.8L964 850.7L966 850.7L968 850.6L970 850.6L972 850.6L974 850.5L976 850.5L978 850.5L980 850.5L982 850.5L984 850.5L986 850.5L988 850.5L990 850.5L992 850.5L994 850.5L996 850.5L998 850.5L1000 850.5L1002 850.5L1004 850.5L1006 850.5L1008 850.5L1010 850.5L1012 850.5L1014 850.5L1016 850.4L1018 850.3L1020 850.3L1022 850.2L1024 850L1026 850L1028 849.9L1030 849.6L1032 849.6L1034 849.4L1036 849.2L1038 849.2L1040 848.8L1042 848.5L1044 848.5L1046 848.2L1048 847.8L1050 847.8L1052 847.4L1054 847.1L1056 847.1L1058 846.6L1060 846.2L1062 846.2L1064 845.7L1066 845.3L1068 845.3L1070 844.8L1072 844.3L1074 843.8L1076 843.8L1078 843.2L1080 842.7L1082 842.7L1084 842.1L1086 841.6L1088 841.6L1090 841L1092 840.4L1094 840.4L1096 839.8L1098 839.2L1100 839.2L1102 838.6L1104 838L1106 838L1108 837.4L1110 836.7L1112 836.7L1114 836.1L1116 835.5L1118 835.5L1120 834.8L1122 834.2L1124 833.5L1126 833.5L1128 832.8L1130 832.2L1132 832.2L1134 831.5L1136 830.8L1138 830.8L1140 830.1L1142 829.3L1144 829.3L1146 828.6L1148 827.9L1150 827.9L1152 827.1L1154 826.3L1156 825.6L1158 825.6L1160 824.7L1162 823.9L1164 823.9L1166 823.1L1168 822.2L1170 822.2L1172 821.3L1174 820.4L1176 820.4L1178 819.5L1180 818.5L1182 817.6L1184 817.6L1186 816.6L1188 815.6L1190 815.6L1192 814.5L1194 813.5L1196 812.4L1198 812.4L1200 811.3L1202 810.2L1204 810.2L1206 809.1L1208 807.9L1210 806.8L1212 806.8L1214 805.6L1216 804.4L1218 803.2L1220 803.2L1222 802L1224 800.8L1226 800.8L1228 799.5L1230 798.3L1232 797L1234 797L1236 795.8L1238 794.5L1240 793.2L1242 793.2L1244 791.9L1246 790.6L1248 789.3L1250 789.3L1252 788L1254 786.6L1256 785.3L1258 785.3L1260 784L1262 782.6L1264 782.6L1266 781.3L1268 779.9L1270 778.5L1272 778.5L1274 777.2L1276 775.8L1278 774.4L1280 773L1282 773L1284 771.6L1286 770.1L1288 768.7L1290 768.7L1292 767.3L1294 765.8L1296 764.4L1298 764.4L1300 762.9L1302 761.4L1304 760L1306 760L1308 758.5L1310 757L1312 755.4L1314 755.4L1316 753.9L1318 752.4L1320 750.9L1322 749.3L1324 749.3L1326 747.8L1328 746.2L1330 744.6L1332 743.1L1334 743.1L1336 741.5L1338 739.9L1340 738.2L1342 738.2L1344 736.6L1346 735L1348 733.3L1350 731.7L1352 731.7L1354 730L1356 728.3L1358 726.6L1360 724.9L1362 724.9L1364 723.2L1366 721.5L1368 719.8L1370 718.1L1372 716.4L1374 716.4L1376 714.6L1378 712.9L1380 711.2L1382 709.4L1384 709.4L1386 707.7L1388 705.9L1390 704.2L1392 702.4L1394 700.7L1396 700.7L1398 698.9L1400 697.2L1402 695.4L1404 693.7L1406 693.7L1408 691.9L1410 690.2L1412 688.5L1414 686.7L1416 685L1418 685L1420 683.3L1422 681.5L1424 679.8L1426 678.1L1428 678.1L1430 676.4L1432 674.7L1434 672.9L1436 671.2L1438 669.5L1440 669.5L1442 667.8L1444 666L1446 664.3L1448 662.6L1450 662.6L1452 660.8L1454 659L1456 657.3L1458 655.5L1460 653.7L1462 653.7L1464 651.9L1466 650.1L1468 648.3L1470 646.5L1472 644.6L1474 644.6L1476 642.8L1478 640.9L1480 639L1482 637.1L1484 635.2L1486 633.3L1488 633.3L1490 631.4L1492 629.4L1494 627.5L1496 625.5L1498 623.5L1500 621.5L1502 619.5L1504 617.5L1506 617.5L1508 615.5L1510 613.4L1512 611.4L1514 609.4L1516 607.3L1518 605.2L1520 603.2L1522 601.1L1524 599L1526 597L1528 594.9L1530 594.9L1532 592.8L1534 590.7L1536 588.7L1538 586.6L1540 584.5L1542 582.4L1544 580.3L1546 578.2L1548 576.1L1550 574L1552 572L1554 569.9L1556 567.8L1558 567.8L1560 565.7L1562 563.6L1564 561.6L1566 559.5L1568 557.4L1570 555.3L1572 553.2L1574 551.1L1576 549.1L1578 547L1580 544.9L1582 542.8L1584 540.7L1586 540.7L1588 538.6L1590 536.5L1592 534.4L1594 532.3L1596 530.2L1598 528.1L1600 526L1602 523.9L1604 521.8L1606 519.7L1608 517.6L1610 515.5L1612 513.4L1614 511.2L1616 511.2L1618 509.1L1620 507L1622 504.9L1624 501.8L1626 499.5L1628 497.2L1630 494.9L1632 492.6L1634 490.3L1636 488L1638 485.7L1640 483.4L1642 481.1L1644 478.8L1646 476.5L1648 474.2L1650 471.9L1652 469.6L1654 467.3L1656 465L1658 462.7L1660 460.4L1662 458.1L1664 455.8L1666 453.5L1668 451.2L1670 448.9L1672 446.6L1674 444.3L1676 439.6L1678 437.3L1680 435L1682 432.7L1684 430.4L1686 428L1688 425.7L1690 423.3L1692 421L1694 418.6L1696 416.2L1698 413.9L1700 411.5L1702 406.7L1704 404.3L1706 401.9L1708 399.5L1710 397.1L1712 394.7L1714 392.3L1716 390L1718 387.6L1720 385.3L1722 382.9L1724 380.6L1726 375.9L1728 373.6L1730 371.3L1732 368.9L1734 366.6L1736 364.3L1738 362L1740 359.6L1742 357.3L1744 355L1746 352.7L1748 350.4L1750 348.1L1752 345.8L1754 343.4L1756 341.1L1758 338.8L1760 336.5L1762 334.2L1764 331.9L1766 329.6L1768 325L1770 322.7L1772 320.4L1774 318.1L1776 315.8L1778 313.5L1780 311.2L1782 308.9L1784 306.6L1786 304.3L1788 302L1790 299.8L1792 297.5L1794 295.2L1796 292.9L1798 290.2L1800 287.7L1802 286.3L1804 286.3L1806 286.3L1808 286.3L1810 286.3L1812 286.3L1814 286.3L1816 286.3L1818 286.3L1820 286.3L1822 286.3L1824 286.3L1826 286.3L1828 286.3L1830 286.3L1832 286.3"/>
<path d="M1658.9 359.4L1717.1 284.1" stroke="#333" stroke-width="2.6" fill="none"/><path d="M1732.4 264.3L1720.8 290.7L1709.7 282.2z" fill="#000"/>
<path d="M1443.6 552L1505.2 494.8" stroke="#333" stroke-width="2.6" fill="none"/><path d="M1523.5 477.8L1507.7 502L1498.2 491.7z" fill="#000"/>
<path d="M1132.3 770L1188.1 735.1" stroke="#333" stroke-width="2.6" fill="none"/><path d="M1209.3 721.8L1189.3 742.6L1181.9 730.7z" fill="#000"/>
<path d="M713.2 850.7L829.7 820.8" stroke="#333" stroke-width="2.6" fill="none"/><path d="M853.9 814.6L828.5 828.3L825 814.8z" fill="#000"/>
<path d="M1801.4 551.2L1735.7 618.2" stroke="#333" stroke-width="2.6" fill="none"/><path d="M1718.2 636L1732.8 611.1L1742.8 620.9z" fill="#000"/>
<path d="M1522 784.5L1424.7 829.1" stroke="#333" stroke-width="2.6" fill="none"/><path d="M1402 839.5L1424.5 821.5L1430.4 834.2z" fill="#000"/>
<path d="M1217.1 925.5L1108.3 951.3" stroke="#333" stroke-width="2.6" fill="none"/><path d="M1084 957.1L1109.6 943.8L1112.9 957.4z" fill="#000"/>
<path d="M808 1142.2L733 1231.1" stroke="#333" stroke-width="2.6" fill="none"/><path d="M716.9 1250.2L729.6 1224.3L740.3 1233.3z" fill="#000"/>
<path d="M1800.5 193.5C1830 205 1848 240 1854 270S1859 300 1859.5 318" stroke="#333" stroke-width="2.6" fill="none"/>
<path d="M1861.2 356.7L1851.5 313.5L1870.5 313.5z" fill="#000"/>
<path d="M453.5 1332.9C440 1305 428 1281 425 1250S424 1210 426 1192" stroke="#333" stroke-width="2.6" fill="none"/>
<path d="M432.6 1165.3L419.5 1193.5L433.5 1194z" fill="#000"/>
<path d="M380.8 37.5h24M380.8 175.5h13M380.8 313.5h24M380.8 451.5h13M380.8 589.5h24M380.8 727.5h13M380.8 865.5h24M380.8 1003.5h13M380.8 1141.5h24M380.8 1279.5h13M380.8 1417.5h24M380.9 1418v-24M530.2 1418v-13M679.6 1418v-24M828.9 1418v-13M978.2 1418v-24M1127.5 1418v-13M1276.8 1418v-24M1426.2 1418v-13M1575.5 1418v-24M1724.8 1418v-13M1874.2 1418v-24" stroke="#000" stroke-width="4.4" fill="none"/>
<rect x="380.8" y="37.5" width="1493.2" height="1380.5" stroke="#000" stroke-width="4.5" fill="none"/>
<g font-family="'Liberation Serif','Times New Roman',serif" font-size="77" fill="#000"><text x="355" y="58.9" text-anchor="end">0.003</text><text x="355" y="334.9" text-anchor="end">0.002</text><text x="355" y="610.9" text-anchor="end">0.001</text><text x="355" y="886.9" text-anchor="end">0.000</text><text x="355" y="1162.9" text-anchor="end">-0.001</text><text x="355" y="1438.9" text-anchor="end">-0.002</text><text x="380.9" y="1501" text-anchor="middle">-1.0</text><text x="679.6" y="1501" text-anchor="middle">-0.5</text><text x="978.2" y="1501" text-anchor="middle">0.0</text><text x="1276.8" y="1501" text-anchor="middle">0.5</text><text x="1575.5" y="1501" text-anchor="middle">1.0</text><text x="1874.2" y="1501" text-anchor="middle">1.5</text></g>
<g transform="translate(97.8,940) rotate(-90)" font-family="'Liberation Serif','Times New Roman',serif" font-size="83" fill="#000"><text><tspan x="2.5" y="0">τ</tspan><tspan x="37" y="26.9" font-size="52">0</tspan><tspan x="64.1" y="0">(t)/ρ (m</tspan><tspan x="319.3" y="-39.4" font-size="52">2</tspan><tspan x="345.5" y="0">/s</tspan><tspan x="400.5" y="-39.4" font-size="52">2</tspan><tspan x="424" y="0">)</tspan></text></g>
<text x="1002.7" y="1626.1" font-family="'Liberation Serif','Times New Roman',serif" font-size="78" textLength="307.4" lengthAdjust="spacingAndGlyphs">U(t) (m/s)</text>
<g font-family="'Liberation Serif','Times New Roman',serif" font-size="62" fill="#000"><circle cx="563" cy="141.3" r="18.2" fill="#ff0000"/>
<path d="M563 198.9l18.2 18.2l-18.2 18.2l-18.2 -18.2z" fill="#000"/>
<path d="M544.6 293H581.4" stroke="#2020ff" stroke-width="3.6"/><path d="M563 274.2V312.4" stroke="#7070ff" stroke-width="4"/>
<path d="M545.5 356H580.5L563 387z" fill="#00ff00"/>
<path d="M547.5 443h31M563 427.5v31M547.5 427.5l31 31M547.5 458.5l31 -31" stroke="#ff44ff" stroke-width="3.2" fill="none"/>
<text x="643.6" y="162.3" textLength="255.2" lengthAdjust="spacingAndGlyphs">k-ω model</text>
<text x="643" y="237.2" textLength="232.3" lengthAdjust="spacingAndGlyphs">Method 1</text>
<text x="643" y="312" textLength="232.3" lengthAdjust="spacingAndGlyphs">Method 2</text>
<text x="643" y="386.9" textLength="232.3" lengthAdjust="spacingAndGlyphs">Method 3</text>
<text x="643" y="461.6" textLength="232.3" lengthAdjust="spacingAndGlyphs">Method 4</text></g>
</svg>
</body></html>
